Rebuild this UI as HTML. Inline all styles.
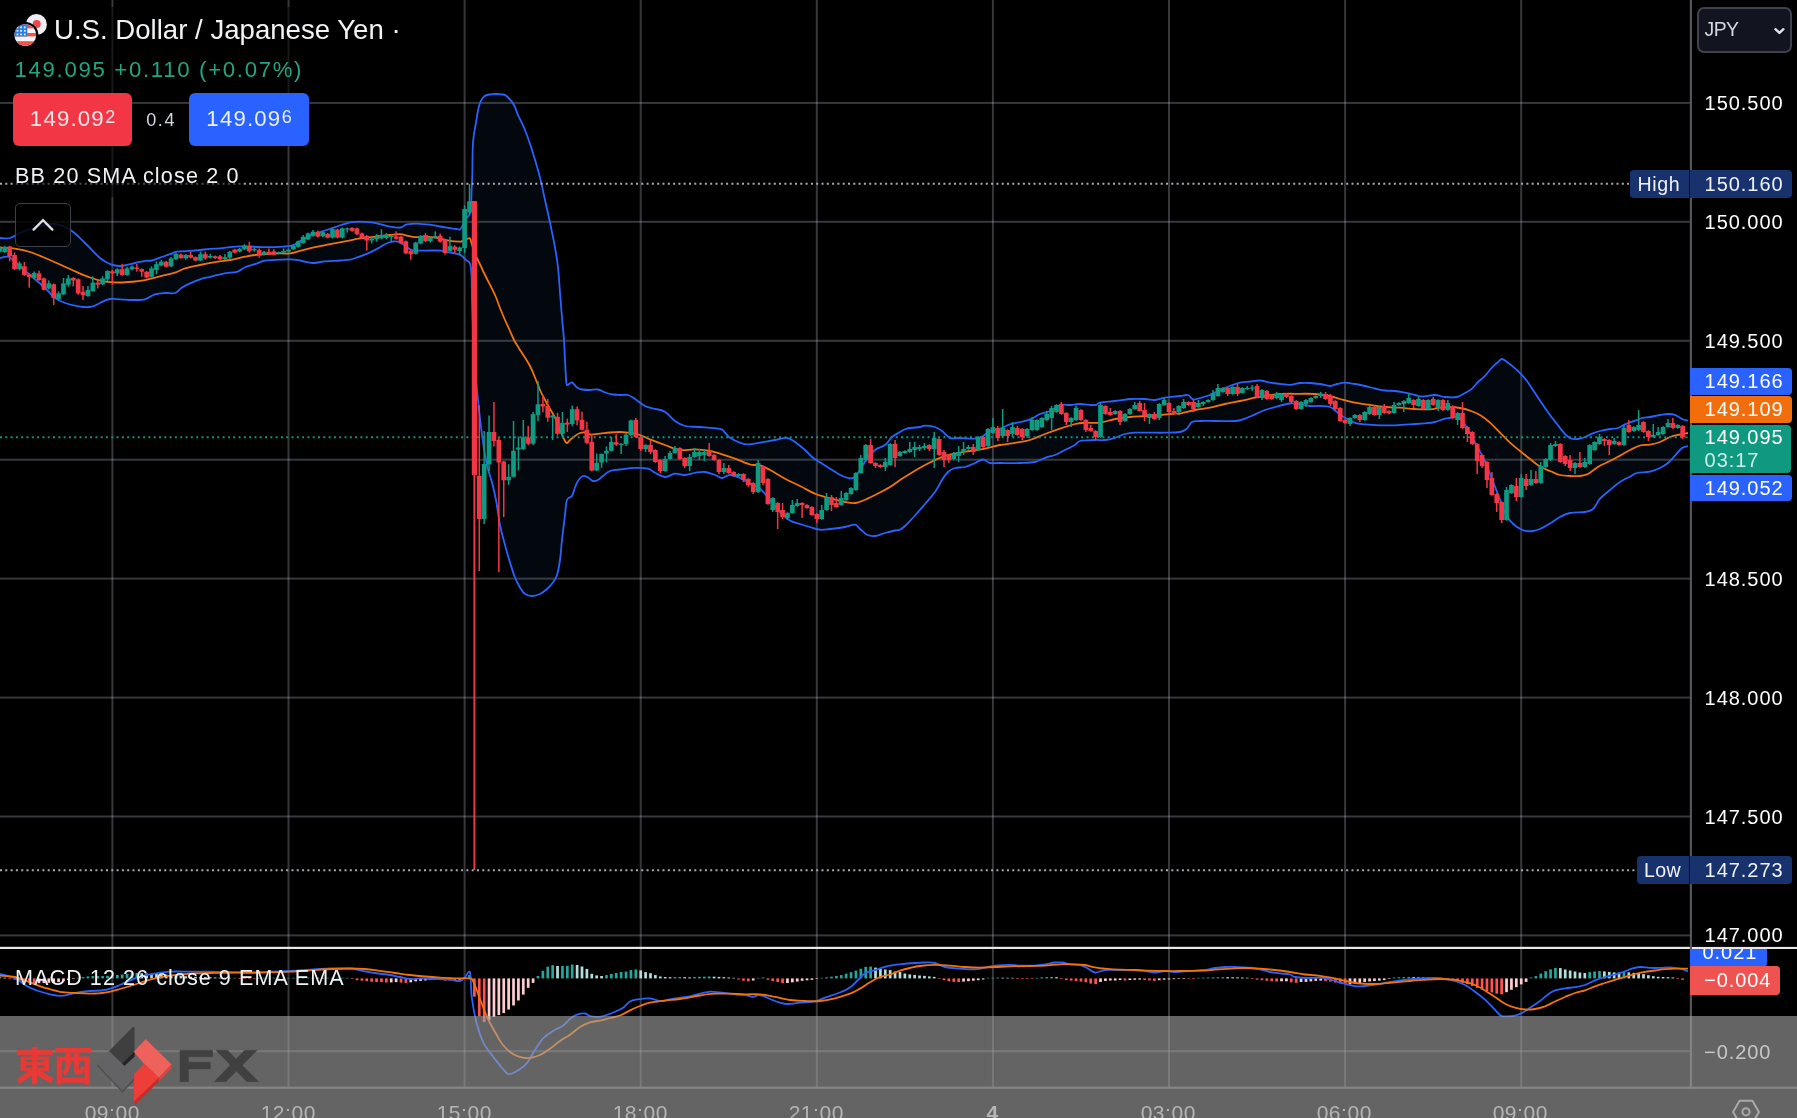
<!DOCTYPE html>
<html><head><meta charset="utf-8"><title>USDJPY chart</title>
<style>
html,body{margin:0;padding:0;background:#000;}
body{width:1797px;height:1118px;overflow:hidden;position:relative;font-family:"Liberation Sans",sans-serif;}
#stage{position:absolute;left:0;top:0;width:1797px;height:1118px;overflow:hidden;will-change:transform;}
#stage svg{position:absolute;left:0;top:0;}
.t{position:absolute;white-space:nowrap;}
.pl{position:absolute;left:1690px;font-size:20px;letter-spacing:0.95px;padding-left:14.6px;box-sizing:border-box;white-space:nowrap;color:#e4e5ea;}
.pl.box{border-radius:0 4px 4px 0;}
.tl{position:absolute;top:1101px;font-size:21px;letter-spacing:0.55px;color:#cfd1d8;transform:translateX(-50%);white-space:nowrap;line-height:24px;}
</style></head><body><div id="stage">

<svg width="1797" height="1118" viewBox="0 0 1797 1118"><g id="grid">
<rect x="111.4" y="0" width="2" height="1088" fill="rgba(205,208,220,0.27)"/>
<rect x="287.5" y="0" width="2" height="1088" fill="rgba(205,208,220,0.27)"/>
<rect x="463.6" y="0" width="2" height="1088" fill="rgba(205,208,220,0.27)"/>
<rect x="639.7" y="0" width="2" height="1088" fill="rgba(205,208,220,0.27)"/>
<rect x="815.8" y="0" width="2" height="1088" fill="rgba(205,208,220,0.27)"/>
<rect x="991.9" y="0" width="2" height="1088" fill="rgba(205,208,220,0.27)"/>
<rect x="1168.0" y="0" width="2" height="1088" fill="rgba(205,208,220,0.27)"/>
<rect x="1344.1" y="0" width="2" height="1088" fill="rgba(205,208,220,0.27)"/>
<rect x="1520.2" y="0" width="2" height="1088" fill="rgba(205,208,220,0.27)"/>
<rect x="0" y="101.9" width="1690.9" height="2" fill="rgba(205,208,220,0.27)"/>
<rect x="0" y="220.8" width="1690.9" height="2" fill="rgba(205,208,220,0.27)"/>
<rect x="0" y="339.8" width="1690.9" height="2" fill="rgba(205,208,220,0.27)"/>
<rect x="0" y="458.7" width="1690.9" height="2" fill="rgba(205,208,220,0.27)"/>
<rect x="0" y="577.6" width="1690.9" height="2" fill="rgba(205,208,220,0.27)"/>
<rect x="0" y="696.6" width="1690.9" height="2" fill="rgba(205,208,220,0.27)"/>
<rect x="0" y="815.5" width="1690.9" height="2" fill="rgba(205,208,220,0.27)"/>
<rect x="0" y="934.4" width="1690.9" height="2" fill="rgba(205,208,220,0.27)"/>
</g>
<polygon points="0.0,238.0 10.0,238.0 20.0,233.0 35.0,227.5 50.0,224.0 60.0,225.0 72.0,231.0 85.0,243.0 100.0,258.0 110.0,264.0 120.0,266.0 135.0,263.0 145.0,260.9 152.0,260.5 160.0,257.6 170.0,254.2 177.0,251.7 190.0,250.9 200.0,250.0 210.0,248.8 220.0,248.4 230.0,247.1 240.0,246.3 250.0,246.5 260.0,247.1 275.0,247.1 285.0,246.5 290.0,245.9 295.0,244.2 305.0,238.4 315.0,233.8 325.0,230.5 335.0,227.1 345.0,223.8 352.0,222.1 360.0,221.7 370.0,222.1 380.0,224.2 390.0,226.7 397.0,227.6 402.0,227.1 406.0,224.6 412.0,223.8 420.0,223.8 430.0,224.7 440.0,226.5 450.0,228.2 457.0,229.1 460.0,229.4 462.5,226.0 465.0,221.0 467.5,217.0 470.0,213.5 471.0,206.3 471.5,193.0 472.3,175.0 473.0,142.5 476.0,122.5 479.0,106.0 483.0,97.5 489.0,94.5 503.0,94.5 508.0,97.5 514.0,105.0 518.0,115.0 525.0,130.0 532.0,150.0 540.0,177.5 545.0,200.0 550.0,222.5 555.0,247.5 558.0,267.5 560.0,292.5 562.0,317.5 564.0,340.0 565.0,360.0 566.0,377.5 567.0,385.0 572.0,382.5 577.0,387.5 582.0,389.5 590.0,390.0 598.0,389.5 605.0,392.5 613.0,394.5 620.0,395.0 628.0,395.0 635.0,399.0 645.0,406.0 655.0,408.8 665.0,411.8 675.0,421.0 685.0,426.0 700.0,427.0 720.0,428.9 725.0,432.7 730.0,437.7 740.0,442.7 748.0,444.4 760.0,442.7 775.0,440.0 787.0,438.0 795.0,442.0 805.0,450.0 813.0,457.8 822.0,463.6 830.0,468.7 838.0,473.7 845.0,477.0 853.0,477.9 860.0,470.0 867.0,458.6 875.0,450.0 885.0,445.0 892.0,437.0 900.0,432.0 907.0,428.6 920.0,427.0 925.0,425.6 935.0,427.0 942.0,431.0 950.0,437.8 960.0,438.0 975.0,438.6 983.0,436.0 990.0,431.0 1000.0,428.6 1010.0,424.4 1020.0,422.0 1030.0,419.4 1040.0,414.0 1050.0,411.0 1060.0,405.0 1070.0,405.0 1080.0,404.0 1095.0,405.0 1100.0,402.6 1115.0,401.0 1130.0,399.0 1145.0,399.0 1155.0,400.0 1165.0,397.6 1180.0,396.0 1188.0,395.0 1193.0,399.4 1200.0,398.0 1210.0,395.0 1220.0,390.0 1230.0,386.0 1240.0,382.6 1250.0,381.5 1260.0,380.5 1270.0,382.6 1280.0,383.8 1290.0,384.8 1300.0,383.0 1310.0,383.0 1320.0,384.0 1330.0,386.0 1337.0,384.0 1345.0,382.6 1355.0,384.0 1365.0,386.0 1375.0,388.5 1385.0,390.5 1395.0,391.0 1405.0,392.7 1415.0,395.0 1422.0,396.5 1435.0,395.0 1445.0,397.0 1457.0,397.0 1465.0,393.0 1472.0,388.6 1478.0,382.0 1485.0,375.8 1492.0,367.5 1498.0,362.0 1502.0,359.0 1507.0,362.0 1513.0,366.6 1520.0,373.0 1527.0,381.0 1535.0,393.0 1543.0,405.0 1550.0,415.0 1557.0,424.0 1563.0,431.7 1570.0,438.0 1578.0,439.0 1585.0,437.0 1592.0,433.6 1600.0,431.0 1610.0,429.0 1618.0,428.0 1625.0,424.4 1635.0,420.7 1642.0,418.0 1650.0,417.0 1660.0,415.0 1668.0,414.0 1675.0,414.8 1682.0,419.0 1688.0,420.7 1688.0,446.0 1682.0,448.0 1675.0,455.6 1668.0,463.0 1660.0,468.0 1650.0,471.7 1637.0,473.0 1630.0,476.7 1620.0,482.0 1610.0,490.0 1600.0,498.7 1596.0,505.0 1592.0,509.7 1585.0,512.0 1570.0,513.0 1560.0,517.0 1550.0,523.5 1540.0,529.0 1533.0,531.0 1525.0,530.8 1517.0,527.0 1510.0,520.7 1505.0,512.5 1500.0,499.6 1495.0,486.7 1490.0,474.0 1485.0,461.0 1478.0,448.0 1472.0,437.0 1465.0,424.4 1458.0,417.0 1450.0,418.0 1445.0,418.6 1435.0,422.0 1425.0,423.3 1410.0,424.4 1395.0,425.3 1380.0,425.3 1365.0,424.4 1355.0,422.8 1345.0,417.8 1337.0,412.0 1330.0,407.0 1320.0,406.0 1310.0,406.0 1300.0,404.4 1290.0,403.5 1275.0,407.0 1265.0,410.0 1255.0,414.4 1245.0,418.6 1235.0,421.0 1215.0,421.0 1200.0,421.0 1192.0,422.0 1187.0,428.6 1180.0,432.0 1165.0,432.7 1150.0,432.7 1135.0,432.7 1125.0,434.0 1115.0,437.8 1105.0,440.0 1095.0,440.0 1080.0,441.0 1075.0,445.0 1065.0,450.0 1055.0,455.0 1045.0,457.8 1035.0,462.0 1020.0,463.0 1000.0,463.0 990.0,463.0 983.0,459.5 975.0,463.0 965.0,467.0 955.0,468.0 948.0,472.0 942.0,480.0 935.0,492.0 925.0,504.0 915.0,515.5 905.0,526.0 900.0,529.7 895.0,530.5 885.0,533.0 875.0,536.0 867.0,534.7 860.0,529.0 855.0,524.7 845.0,527.0 830.0,529.0 820.0,529.7 810.0,527.0 800.0,524.0 790.0,520.5 780.0,512.0 770.0,500.0 760.0,488.7 750.0,483.7 740.0,478.0 730.0,475.0 722.0,478.0 715.0,475.0 705.0,472.0 695.0,472.8 685.0,475.0 675.0,473.7 665.0,477.0 655.0,472.8 648.0,468.7 635.0,467.8 620.0,469.5 610.0,471.0 603.0,476.0 598.0,480.0 593.0,481.0 588.0,477.5 583.0,476.0 578.0,481.0 575.0,487.5 572.0,496.0 567.0,500.0 565.0,515.0 562.0,540.0 560.0,560.0 557.0,575.0 553.0,582.5 547.0,589.0 540.0,594.0 532.0,596.0 525.0,594.0 520.0,587.5 515.0,577.5 510.0,562.5 505.0,545.0 500.0,525.0 496.0,500.0 492.0,482.5 487.0,465.0 482.0,435.0 477.0,390.0 475.0,360.0 473.0,330.0 472.0,300.0 471.5,275.0 470.0,263.6 466.0,260.0 462.0,256.0 458.0,254.2 452.0,252.9 445.0,252.0 440.0,250.6 420.0,250.6 415.0,250.5 410.0,249.3 403.0,244.2 398.0,241.7 392.0,241.7 385.0,244.2 378.0,248.4 368.0,253.4 358.0,257.2 350.0,259.7 340.0,260.5 325.0,261.4 313.0,263.0 300.0,260.5 290.0,259.3 280.0,259.7 265.0,260.7 255.0,264.2 245.0,267.2 237.0,271.8 225.0,273.4 210.0,276.8 200.0,279.3 190.0,283.4 182.0,287.6 175.0,293.0 165.0,293.0 155.0,294.3 145.0,299.3 135.0,300.0 125.0,299.7 110.0,299.0 100.0,303.0 92.0,306.7 80.0,306.7 65.0,303.0 55.0,298.0 45.0,288.0 30.0,275.0 15.0,261.7 8.0,256.7 0.0,258.0" fill="rgba(33,150,243,0.055)"/>
<path d="M0.0,238.0 C1.8,238.0 6.4,238.9 10.0,238.0 C13.6,237.1 15.5,234.9 20.0,233.0 C24.5,231.1 29.6,229.1 35.0,227.5 C40.4,225.9 45.5,224.4 50.0,224.0 C54.5,223.6 56.0,223.7 60.0,225.0 C64.0,226.3 67.5,227.8 72.0,231.0 C76.5,234.2 80.0,238.1 85.0,243.0 C90.0,247.9 95.5,254.2 100.0,258.0 C104.5,261.8 106.4,262.6 110.0,264.0 C113.6,265.4 115.5,266.2 120.0,266.0 C124.5,265.8 130.5,263.9 135.0,263.0 C139.5,262.1 141.9,261.3 145.0,260.9 C148.1,260.4 149.3,261.1 152.0,260.5 C154.7,259.9 156.8,258.7 160.0,257.6 C163.2,256.5 166.9,255.3 170.0,254.2 C173.1,253.1 173.4,252.3 177.0,251.7 C180.6,251.1 185.9,251.2 190.0,250.9 C194.1,250.6 196.4,250.4 200.0,250.0 C203.6,249.6 206.4,249.1 210.0,248.8 C213.6,248.5 216.4,248.7 220.0,248.4 C223.6,248.1 226.4,247.5 230.0,247.1 C233.6,246.7 236.4,246.4 240.0,246.3 C243.6,246.2 246.4,246.4 250.0,246.5 C253.6,246.6 255.5,247.0 260.0,247.1 C264.5,247.2 270.5,247.2 275.0,247.1 C279.5,247.0 282.3,246.7 285.0,246.5 C287.7,246.3 288.2,246.3 290.0,245.9 C291.8,245.5 292.3,245.5 295.0,244.2 C297.7,242.8 301.4,240.3 305.0,238.4 C308.6,236.5 311.4,235.2 315.0,233.8 C318.6,232.4 321.4,231.7 325.0,230.5 C328.6,229.3 331.4,228.3 335.0,227.1 C338.6,225.9 341.9,224.7 345.0,223.8 C348.1,222.9 349.3,222.5 352.0,222.1 C354.7,221.7 356.8,221.7 360.0,221.7 C363.2,221.7 366.4,221.7 370.0,222.1 C373.6,222.5 376.4,223.4 380.0,224.2 C383.6,225.0 386.9,226.1 390.0,226.7 C393.1,227.3 394.8,227.5 397.0,227.6 C399.2,227.7 400.4,227.6 402.0,227.1 C403.6,226.6 404.2,225.2 406.0,224.6 C407.8,224.0 409.5,223.9 412.0,223.8 C414.5,223.7 416.8,223.6 420.0,223.8 C423.2,224.0 426.4,224.2 430.0,224.7 C433.6,225.2 436.4,225.9 440.0,226.5 C443.6,227.1 446.9,227.7 450.0,228.2 C453.1,228.7 455.2,228.9 457.0,229.1 C458.8,229.3 459.0,230.0 460.0,229.4 C461.0,228.8 461.6,227.5 462.5,226.0 C463.4,224.5 464.1,222.6 465.0,221.0 C465.9,219.4 466.6,218.3 467.5,217.0 C468.4,215.7 469.4,215.4 470.0,213.5 C470.6,211.6 470.7,210.0 471.0,206.3 C471.3,202.6 471.3,198.6 471.5,193.0 C471.7,187.4 472.0,184.1 472.3,175.0 C472.6,165.9 472.3,151.9 473.0,142.5 C473.7,133.1 474.9,129.1 476.0,122.5 C477.1,115.9 477.7,110.5 479.0,106.0 C480.3,101.5 481.2,99.6 483.0,97.5 C484.8,95.4 485.4,95.0 489.0,94.5 C492.6,94.0 499.6,94.0 503.0,94.5 C506.4,95.0 506.0,95.6 508.0,97.5 C510.0,99.4 512.2,101.8 514.0,105.0 C515.8,108.2 516.0,110.5 518.0,115.0 C520.0,119.5 522.5,123.7 525.0,130.0 C527.5,136.3 529.3,141.4 532.0,150.0 C534.7,158.6 537.7,168.5 540.0,177.5 C542.3,186.5 543.2,191.9 545.0,200.0 C546.8,208.1 548.2,213.9 550.0,222.5 C551.8,231.1 553.6,239.4 555.0,247.5 C556.4,255.6 557.1,259.4 558.0,267.5 C558.9,275.6 559.3,283.5 560.0,292.5 C560.7,301.5 561.3,308.9 562.0,317.5 C562.7,326.1 563.5,332.4 564.0,340.0 C564.5,347.6 564.6,353.2 565.0,360.0 C565.4,366.8 565.6,373.0 566.0,377.5 C566.4,382.0 566.0,384.1 567.0,385.0 C568.1,385.9 570.2,382.1 572.0,382.5 C573.8,382.9 575.2,386.2 577.0,387.5 C578.8,388.8 579.7,389.1 582.0,389.5 C584.3,389.9 587.1,390.0 590.0,390.0 C592.9,390.0 595.3,389.1 598.0,389.5 C600.7,389.9 602.3,391.6 605.0,392.5 C607.7,393.4 610.3,394.1 613.0,394.5 C615.7,394.9 617.3,394.9 620.0,395.0 C622.7,395.1 625.3,394.3 628.0,395.0 C630.7,395.7 631.9,397.0 635.0,399.0 C638.1,401.0 641.4,404.2 645.0,406.0 C648.6,407.8 651.4,407.8 655.0,408.8 C658.6,409.8 661.4,409.6 665.0,411.8 C668.6,414.0 671.4,418.4 675.0,421.0 C678.6,423.6 680.5,424.9 685.0,426.0 C689.5,427.1 693.7,426.5 700.0,427.0 C706.3,427.5 715.5,427.9 720.0,428.9 C724.5,429.9 723.2,431.1 725.0,432.7 C726.8,434.3 727.3,435.9 730.0,437.7 C732.7,439.5 736.8,441.5 740.0,442.7 C743.2,443.9 744.4,444.4 748.0,444.4 C751.6,444.4 755.1,443.5 760.0,442.7 C764.9,441.9 770.1,440.8 775.0,440.0 C779.9,439.2 783.4,437.6 787.0,438.0 C790.6,438.4 791.8,439.8 795.0,442.0 C798.2,444.2 801.8,447.2 805.0,450.0 C808.2,452.8 809.9,455.4 813.0,457.8 C816.1,460.2 818.9,461.6 822.0,463.6 C825.1,465.6 827.1,466.9 830.0,468.7 C832.9,470.5 835.3,472.2 838.0,473.7 C840.7,475.2 842.3,476.2 845.0,477.0 C847.7,477.8 850.3,479.2 853.0,477.9 C855.7,476.6 857.5,473.5 860.0,470.0 C862.5,466.5 864.3,462.2 867.0,458.6 C869.7,455.0 871.8,452.4 875.0,450.0 C878.2,447.6 881.9,447.3 885.0,445.0 C888.1,442.7 889.3,439.3 892.0,437.0 C894.7,434.7 897.3,433.5 900.0,432.0 C902.7,430.5 903.4,429.5 907.0,428.6 C910.6,427.7 916.8,427.5 920.0,427.0 C923.2,426.5 922.3,425.6 925.0,425.6 C927.7,425.6 931.9,426.0 935.0,427.0 C938.1,428.0 939.3,429.1 942.0,431.0 C944.7,432.9 946.8,436.5 950.0,437.8 C953.2,439.1 955.5,437.9 960.0,438.0 C964.5,438.1 970.9,439.0 975.0,438.6 C979.1,438.2 980.3,437.4 983.0,436.0 C985.7,434.6 986.9,432.3 990.0,431.0 C993.1,429.7 996.4,429.8 1000.0,428.6 C1003.6,427.4 1006.4,425.6 1010.0,424.4 C1013.6,423.2 1016.4,422.9 1020.0,422.0 C1023.6,421.1 1026.4,420.8 1030.0,419.4 C1033.6,418.0 1036.4,415.5 1040.0,414.0 C1043.6,412.5 1046.4,412.6 1050.0,411.0 C1053.6,409.4 1056.4,406.1 1060.0,405.0 C1063.6,403.9 1066.4,405.2 1070.0,405.0 C1073.6,404.8 1075.5,404.0 1080.0,404.0 C1084.5,404.0 1091.4,405.3 1095.0,405.0 C1098.6,404.7 1096.4,403.3 1100.0,402.6 C1103.6,401.9 1109.6,401.6 1115.0,401.0 C1120.4,400.4 1124.6,399.4 1130.0,399.0 C1135.4,398.6 1140.5,398.8 1145.0,399.0 C1149.5,399.2 1151.4,400.3 1155.0,400.0 C1158.6,399.7 1160.5,398.3 1165.0,397.6 C1169.5,396.9 1175.9,396.5 1180.0,396.0 C1184.1,395.5 1185.7,394.4 1188.0,395.0 C1190.3,395.6 1190.8,398.9 1193.0,399.4 C1195.2,399.9 1196.9,398.8 1200.0,398.0 C1203.1,397.2 1206.4,396.4 1210.0,395.0 C1213.6,393.6 1216.4,391.6 1220.0,390.0 C1223.6,388.4 1226.4,387.3 1230.0,386.0 C1233.6,384.7 1236.4,383.4 1240.0,382.6 C1243.6,381.8 1246.4,381.9 1250.0,381.5 C1253.6,381.1 1256.4,380.3 1260.0,380.5 C1263.6,380.7 1266.4,382.0 1270.0,382.6 C1273.6,383.2 1276.4,383.4 1280.0,383.8 C1283.6,384.2 1286.4,384.9 1290.0,384.8 C1293.6,384.7 1296.4,383.3 1300.0,383.0 C1303.6,382.7 1306.4,382.8 1310.0,383.0 C1313.6,383.2 1316.4,383.5 1320.0,384.0 C1323.6,384.5 1326.9,386.0 1330.0,386.0 C1333.1,386.0 1334.3,384.6 1337.0,384.0 C1339.7,383.4 1341.8,382.6 1345.0,382.6 C1348.2,382.6 1351.4,383.4 1355.0,384.0 C1358.6,384.6 1361.4,385.2 1365.0,386.0 C1368.6,386.8 1371.4,387.7 1375.0,388.5 C1378.6,389.3 1381.4,390.1 1385.0,390.5 C1388.6,390.9 1391.4,390.6 1395.0,391.0 C1398.6,391.4 1401.4,392.0 1405.0,392.7 C1408.6,393.4 1411.9,394.3 1415.0,395.0 C1418.1,395.7 1418.4,396.5 1422.0,396.5 C1425.6,396.5 1430.9,394.9 1435.0,395.0 C1439.1,395.1 1441.0,396.6 1445.0,397.0 C1449.0,397.4 1453.4,397.7 1457.0,397.0 C1460.6,396.3 1462.3,394.5 1465.0,393.0 C1467.7,391.5 1469.7,390.6 1472.0,388.6 C1474.3,386.6 1475.7,384.3 1478.0,382.0 C1480.3,379.7 1482.5,378.4 1485.0,375.8 C1487.5,373.2 1489.7,370.0 1492.0,367.5 C1494.3,365.0 1496.2,363.5 1498.0,362.0 C1499.8,360.5 1500.4,359.0 1502.0,359.0 C1503.6,359.0 1505.0,360.6 1507.0,362.0 C1509.0,363.4 1510.7,364.6 1513.0,366.6 C1515.3,368.6 1517.5,370.4 1520.0,373.0 C1522.5,375.6 1524.3,377.4 1527.0,381.0 C1529.7,384.6 1532.1,388.7 1535.0,393.0 C1537.9,397.3 1540.3,401.0 1543.0,405.0 C1545.7,409.0 1547.5,411.6 1550.0,415.0 C1552.5,418.4 1554.7,421.0 1557.0,424.0 C1559.3,427.0 1560.7,429.2 1563.0,431.7 C1565.3,434.2 1567.3,436.7 1570.0,438.0 C1572.7,439.3 1575.3,439.2 1578.0,439.0 C1580.7,438.8 1582.5,438.0 1585.0,437.0 C1587.5,436.0 1589.3,434.7 1592.0,433.6 C1594.7,432.5 1596.8,431.8 1600.0,431.0 C1603.2,430.2 1606.8,429.5 1610.0,429.0 C1613.2,428.5 1615.3,428.8 1618.0,428.0 C1620.7,427.2 1621.9,425.7 1625.0,424.4 C1628.1,423.1 1631.9,421.9 1635.0,420.7 C1638.1,419.5 1639.3,418.7 1642.0,418.0 C1644.7,417.3 1646.8,417.5 1650.0,417.0 C1653.2,416.5 1656.8,415.5 1660.0,415.0 C1663.2,414.5 1665.3,414.0 1668.0,414.0 C1670.7,414.0 1672.5,413.9 1675.0,414.8 C1677.5,415.7 1679.7,417.9 1682.0,419.0 C1684.3,420.1 1686.9,420.4 1688.0,420.7" fill="none" stroke="#2962ff" stroke-width="1.8" stroke-linejoin="round"/>
<path d="M0.0,258.0 C1.4,257.8 5.3,256.0 8.0,256.7 C10.7,257.4 11.0,258.4 15.0,261.7 C19.0,265.0 24.6,270.3 30.0,275.0 C35.4,279.7 40.5,283.9 45.0,288.0 C49.5,292.1 51.4,295.3 55.0,298.0 C58.6,300.7 60.5,301.4 65.0,303.0 C69.5,304.6 75.1,306.0 80.0,306.7 C84.9,307.4 88.4,307.4 92.0,306.7 C95.6,306.0 96.8,304.4 100.0,303.0 C103.2,301.6 105.5,299.6 110.0,299.0 C114.5,298.4 120.5,299.5 125.0,299.7 C129.5,299.9 131.4,300.1 135.0,300.0 C138.6,299.9 141.4,300.3 145.0,299.3 C148.6,298.3 151.4,295.4 155.0,294.3 C158.6,293.2 161.4,293.2 165.0,293.0 C168.6,292.8 171.9,294.0 175.0,293.0 C178.1,292.0 179.3,289.3 182.0,287.6 C184.7,285.9 186.8,284.9 190.0,283.4 C193.2,281.9 196.4,280.5 200.0,279.3 C203.6,278.1 205.5,277.9 210.0,276.8 C214.5,275.7 220.1,274.3 225.0,273.4 C229.9,272.5 233.4,272.9 237.0,271.8 C240.6,270.7 241.8,268.6 245.0,267.2 C248.2,265.8 251.4,265.4 255.0,264.2 C258.6,263.0 260.5,261.5 265.0,260.7 C269.5,259.9 275.5,260.0 280.0,259.7 C284.5,259.4 286.4,259.2 290.0,259.3 C293.6,259.4 295.9,259.8 300.0,260.5 C304.1,261.2 308.5,262.8 313.0,263.0 C317.5,263.2 320.1,261.8 325.0,261.4 C329.9,260.9 335.5,260.8 340.0,260.5 C344.5,260.2 346.8,260.3 350.0,259.7 C353.2,259.1 354.8,258.3 358.0,257.2 C361.2,256.1 364.4,255.0 368.0,253.4 C371.6,251.8 374.9,250.1 378.0,248.4 C381.1,246.7 382.5,245.4 385.0,244.2 C387.5,243.0 389.7,242.1 392.0,241.7 C394.3,241.2 396.0,241.2 398.0,241.7 C400.0,242.1 400.8,242.8 403.0,244.2 C405.2,245.6 407.8,248.2 410.0,249.3 C412.2,250.4 413.2,250.3 415.0,250.5 C416.8,250.7 415.5,250.6 420.0,250.6 C424.5,250.6 435.5,250.3 440.0,250.6 C444.5,250.9 442.8,251.6 445.0,252.0 C447.2,252.4 449.7,252.5 452.0,252.9 C454.3,253.3 456.2,253.6 458.0,254.2 C459.8,254.8 460.6,255.0 462.0,256.0 C463.4,257.0 464.6,258.6 466.0,260.0 C467.4,261.4 469.0,260.9 470.0,263.6 C471.0,266.3 471.1,268.4 471.5,275.0 C471.9,281.6 471.7,290.1 472.0,300.0 C472.3,309.9 472.5,319.2 473.0,330.0 C473.5,340.8 474.3,349.2 475.0,360.0 C475.7,370.8 475.7,376.5 477.0,390.0 C478.3,403.5 480.2,421.5 482.0,435.0 C483.8,448.5 485.2,456.4 487.0,465.0 C488.8,473.6 490.4,476.2 492.0,482.5 C493.6,488.8 494.6,492.4 496.0,500.0 C497.4,507.6 498.4,516.9 500.0,525.0 C501.6,533.1 503.2,538.2 505.0,545.0 C506.8,551.8 508.2,556.6 510.0,562.5 C511.8,568.4 513.2,573.0 515.0,577.5 C516.8,582.0 518.2,584.5 520.0,587.5 C521.8,590.5 522.8,592.5 525.0,594.0 C527.2,595.5 529.3,596.0 532.0,596.0 C534.7,596.0 537.3,595.3 540.0,594.0 C542.7,592.7 544.7,591.1 547.0,589.0 C549.3,586.9 551.2,585.0 553.0,582.5 C554.8,580.0 555.7,579.0 557.0,575.0 C558.3,571.0 559.1,566.3 560.0,560.0 C560.9,553.7 561.1,548.1 562.0,540.0 C562.9,531.9 564.1,522.2 565.0,515.0 C565.9,507.8 565.7,503.4 567.0,500.0 C568.3,496.6 570.6,498.2 572.0,496.0 C573.4,493.8 573.9,490.2 575.0,487.5 C576.1,484.8 576.6,483.1 578.0,481.0 C579.4,478.9 581.2,476.6 583.0,476.0 C584.8,475.4 586.2,476.6 588.0,477.5 C589.8,478.4 591.2,480.6 593.0,481.0 C594.8,481.4 596.2,480.9 598.0,480.0 C599.8,479.1 600.8,477.6 603.0,476.0 C605.2,474.4 606.9,472.2 610.0,471.0 C613.1,469.8 615.5,470.1 620.0,469.5 C624.5,468.9 630.0,467.9 635.0,467.8 C640.0,467.7 644.4,467.8 648.0,468.7 C651.6,469.6 651.9,471.3 655.0,472.8 C658.1,474.3 661.4,476.8 665.0,477.0 C668.6,477.2 671.4,474.1 675.0,473.7 C678.6,473.3 681.4,475.2 685.0,475.0 C688.6,474.8 691.4,473.3 695.0,472.8 C698.6,472.3 701.4,471.6 705.0,472.0 C708.6,472.4 711.9,473.9 715.0,475.0 C718.1,476.1 719.3,478.0 722.0,478.0 C724.7,478.0 726.8,475.0 730.0,475.0 C733.2,475.0 736.4,476.4 740.0,478.0 C743.6,479.6 746.4,481.8 750.0,483.7 C753.6,485.6 756.4,485.8 760.0,488.7 C763.6,491.6 766.4,495.8 770.0,500.0 C773.6,504.2 776.4,508.3 780.0,512.0 C783.6,515.7 786.4,518.3 790.0,520.5 C793.6,522.7 796.4,522.8 800.0,524.0 C803.6,525.2 806.4,526.0 810.0,527.0 C813.6,528.0 816.4,529.3 820.0,529.7 C823.6,530.1 825.5,529.5 830.0,529.0 C834.5,528.5 840.5,527.8 845.0,527.0 C849.5,526.2 852.3,524.3 855.0,524.7 C857.7,525.1 857.8,527.2 860.0,529.0 C862.2,530.8 864.3,533.4 867.0,534.7 C869.7,536.0 871.8,536.3 875.0,536.0 C878.2,535.7 881.4,534.0 885.0,533.0 C888.6,532.0 892.3,531.1 895.0,530.5 C897.7,529.9 898.2,530.5 900.0,529.7 C901.8,528.9 902.3,528.6 905.0,526.0 C907.7,523.4 911.4,519.5 915.0,515.5 C918.6,511.5 921.4,508.2 925.0,504.0 C928.6,499.8 931.9,496.3 935.0,492.0 C938.1,487.7 939.7,483.6 942.0,480.0 C944.3,476.4 945.7,474.2 948.0,472.0 C950.3,469.8 951.9,468.9 955.0,468.0 C958.1,467.1 961.4,467.9 965.0,467.0 C968.6,466.1 971.8,464.4 975.0,463.0 C978.2,461.6 980.3,459.5 983.0,459.5 C985.7,459.5 986.9,462.4 990.0,463.0 C993.1,463.6 994.6,463.0 1000.0,463.0 C1005.4,463.0 1013.7,463.2 1020.0,463.0 C1026.3,462.8 1030.5,462.9 1035.0,462.0 C1039.5,461.1 1041.4,459.1 1045.0,457.8 C1048.6,456.5 1051.4,456.4 1055.0,455.0 C1058.6,453.6 1061.4,451.8 1065.0,450.0 C1068.6,448.2 1072.3,446.6 1075.0,445.0 C1077.7,443.4 1076.4,441.9 1080.0,441.0 C1083.6,440.1 1090.5,440.2 1095.0,440.0 C1099.5,439.8 1101.4,440.4 1105.0,440.0 C1108.6,439.6 1111.4,438.9 1115.0,437.8 C1118.6,436.7 1121.4,434.9 1125.0,434.0 C1128.6,433.1 1130.5,432.9 1135.0,432.7 C1139.5,432.5 1144.6,432.7 1150.0,432.7 C1155.4,432.7 1159.6,432.8 1165.0,432.7 C1170.4,432.6 1176.0,432.7 1180.0,432.0 C1184.0,431.3 1184.8,430.4 1187.0,428.6 C1189.2,426.8 1189.7,423.4 1192.0,422.0 C1194.3,420.6 1195.9,421.2 1200.0,421.0 C1204.1,420.8 1208.7,421.0 1215.0,421.0 C1221.3,421.0 1229.6,421.4 1235.0,421.0 C1240.4,420.6 1241.4,419.8 1245.0,418.6 C1248.6,417.4 1251.4,415.9 1255.0,414.4 C1258.6,412.9 1261.4,411.3 1265.0,410.0 C1268.6,408.7 1270.5,408.2 1275.0,407.0 C1279.5,405.8 1285.5,404.0 1290.0,403.5 C1294.5,403.0 1296.4,403.9 1300.0,404.4 C1303.6,404.8 1306.4,405.7 1310.0,406.0 C1313.6,406.3 1316.4,405.8 1320.0,406.0 C1323.6,406.2 1326.9,405.9 1330.0,407.0 C1333.1,408.1 1334.3,410.1 1337.0,412.0 C1339.7,413.9 1341.8,415.9 1345.0,417.8 C1348.2,419.7 1351.4,421.6 1355.0,422.8 C1358.6,424.0 1360.5,423.9 1365.0,424.4 C1369.5,424.8 1374.6,425.1 1380.0,425.3 C1385.4,425.5 1389.6,425.5 1395.0,425.3 C1400.4,425.1 1404.6,424.8 1410.0,424.4 C1415.4,424.0 1420.5,423.7 1425.0,423.3 C1429.5,422.9 1431.4,422.8 1435.0,422.0 C1438.6,421.2 1442.3,419.3 1445.0,418.6 C1447.7,417.9 1447.7,418.3 1450.0,418.0 C1452.3,417.7 1455.3,415.8 1458.0,417.0 C1460.7,418.2 1462.5,420.8 1465.0,424.4 C1467.5,428.0 1469.7,432.8 1472.0,437.0 C1474.3,441.2 1475.7,443.7 1478.0,448.0 C1480.3,452.3 1482.8,456.3 1485.0,461.0 C1487.2,465.7 1488.2,469.4 1490.0,474.0 C1491.8,478.6 1493.2,482.1 1495.0,486.7 C1496.8,491.3 1498.2,495.0 1500.0,499.6 C1501.8,504.2 1503.2,508.7 1505.0,512.5 C1506.8,516.3 1507.8,518.1 1510.0,520.7 C1512.2,523.3 1514.3,525.2 1517.0,527.0 C1519.7,528.8 1522.1,530.1 1525.0,530.8 C1527.9,531.5 1530.3,531.3 1533.0,531.0 C1535.7,530.7 1536.9,530.4 1540.0,529.0 C1543.1,527.6 1546.4,525.7 1550.0,523.5 C1553.6,521.3 1556.4,518.9 1560.0,517.0 C1563.6,515.1 1565.5,513.9 1570.0,513.0 C1574.5,512.1 1581.0,512.6 1585.0,512.0 C1589.0,511.4 1590.0,511.0 1592.0,509.7 C1594.0,508.4 1594.6,507.0 1596.0,505.0 C1597.4,503.0 1597.5,501.4 1600.0,498.7 C1602.5,496.0 1606.4,493.0 1610.0,490.0 C1613.6,487.0 1616.4,484.4 1620.0,482.0 C1623.6,479.6 1626.9,478.3 1630.0,476.7 C1633.1,475.1 1633.4,473.9 1637.0,473.0 C1640.6,472.1 1645.9,472.6 1650.0,471.7 C1654.1,470.8 1656.8,469.6 1660.0,468.0 C1663.2,466.4 1665.3,465.2 1668.0,463.0 C1670.7,460.8 1672.5,458.3 1675.0,455.6 C1677.5,452.9 1679.7,449.7 1682.0,448.0 C1684.3,446.3 1686.9,446.4 1688.0,446.0" fill="none" stroke="#2962ff" stroke-width="1.8" stroke-linejoin="round"/>
<path d="M0.0,247.5 C2.7,247.7 9.6,247.9 15.0,248.7 C20.4,249.5 23.7,250.0 30.0,252.0 C36.3,254.0 42.8,256.9 50.0,260.0 C57.2,263.1 62.8,265.9 70.0,269.0 C77.2,272.1 83.7,275.2 90.0,277.5 C96.3,279.8 99.6,280.8 105.0,281.7 C110.4,282.6 114.6,282.5 120.0,282.5 C125.4,282.5 130.5,281.9 135.0,281.5 C139.5,281.1 140.5,281.0 145.0,280.1 C149.5,279.2 154.6,277.8 160.0,276.4 C165.4,275.0 170.5,274.0 175.0,272.6 C179.5,271.2 180.5,269.8 185.0,268.4 C189.5,267.0 194.6,266.1 200.0,265.0 C205.4,263.9 209.6,263.1 215.0,262.2 C220.4,261.3 224.6,261.0 230.0,260.0 C235.4,259.0 240.5,257.6 245.0,256.7 C249.5,255.8 251.4,255.4 255.0,255.0 C258.6,254.6 260.5,254.5 265.0,254.2 C269.5,253.9 275.5,253.5 280.0,253.4 C284.5,253.3 286.4,253.8 290.0,253.4 C293.6,253.0 295.5,252.0 300.0,250.9 C304.5,249.8 309.6,248.4 315.0,247.2 C320.4,246.0 324.6,245.3 330.0,244.2 C335.4,243.1 339.6,242.3 345.0,241.3 C350.4,240.3 355.5,239.1 360.0,238.4 C364.5,237.7 366.4,237.6 370.0,237.2 C373.6,236.8 376.4,236.3 380.0,235.9 C383.6,235.5 386.4,235.3 390.0,235.0 C393.6,234.7 396.8,234.0 400.0,234.2 C403.2,234.4 405.3,235.4 408.0,235.9 C410.7,236.4 411.9,237.1 415.0,237.2 C418.1,237.3 421.4,236.6 425.0,236.7 C428.6,236.8 432.3,237.3 435.0,237.6 C437.7,237.9 437.3,237.9 440.0,238.5 C442.7,239.1 446.4,240.2 450.0,240.8 C453.6,241.4 457.8,241.6 460.0,241.7 C462.0,241.8 460.7,241.7 462.0,241.2 C463.3,240.7 465.6,239.5 467.0,239.0 C468.4,238.5 469.1,237.5 470.0,238.5 C470.9,239.5 470.7,241.3 472.0,244.8 C473.3,248.3 475.4,254.3 477.0,258.2 C478.6,262.1 479.6,263.3 481.0,266.3 C482.4,269.3 482.5,269.8 485.0,275.0 C487.5,280.2 492.3,289.1 495.0,295.0 C497.7,300.9 498.2,303.5 500.0,308.0 C501.8,312.5 503.2,315.9 505.0,320.0 C506.8,324.1 508.4,327.4 510.0,331.0 C511.6,334.6 512.5,337.0 514.0,340.0 C515.5,343.0 516.9,344.9 518.5,347.5 C520.1,350.1 520.9,351.2 523.0,354.5 C525.1,357.8 527.8,361.9 530.0,366.0 C532.2,370.1 533.2,373.2 535.0,377.5 C536.8,381.8 538.2,385.9 540.0,390.0 C541.8,394.1 543.2,396.6 545.0,400.0 C546.8,403.4 548.2,405.9 550.0,409.0 C551.8,412.1 553.2,413.7 555.0,417.5 C556.8,421.3 558.2,425.8 560.0,430.0 C561.8,434.2 563.7,438.7 565.0,441.0 C566.3,443.3 566.1,443.2 567.0,443.0 C567.9,442.8 568.6,441.3 570.0,440.0 C571.4,438.7 573.2,437.3 575.0,436.0 C576.8,434.7 578.2,433.6 580.0,433.0 C581.8,432.4 583.2,432.2 585.0,432.5 C586.8,432.8 587.3,434.3 590.0,434.5 C592.7,434.7 596.4,434.1 600.0,433.7 C603.6,433.3 606.4,432.8 610.0,432.5 C613.6,432.2 616.8,432.0 620.0,432.0 C623.2,432.0 624.4,432.2 628.0,432.7 C631.6,433.2 636.0,433.8 640.0,435.0 C644.0,436.2 645.5,437.6 650.0,439.4 C654.5,441.2 659.6,443.1 665.0,445.0 C670.4,446.9 674.6,449.2 680.0,450.0 C685.4,450.8 689.6,449.2 695.0,449.4 C700.4,449.6 705.5,450.2 710.0,451.0 C714.5,451.8 715.5,452.2 720.0,453.6 C724.5,455.0 729.6,456.6 735.0,458.6 C740.4,460.6 745.5,463.3 750.0,464.5 C754.5,465.7 756.4,464.3 760.0,465.3 C763.6,466.3 765.5,467.6 770.0,470.0 C774.5,472.4 779.6,475.8 785.0,478.7 C790.4,481.6 794.6,483.3 800.0,486.0 C805.4,488.7 810.5,491.7 815.0,493.7 C819.5,495.7 821.4,495.9 825.0,497.0 C828.6,498.1 831.4,498.7 835.0,499.6 C838.6,500.5 841.4,501.4 845.0,502.0 C848.6,502.6 851.9,503.2 855.0,503.0 C858.1,502.8 858.4,502.4 862.0,501.0 C865.6,499.6 870.0,497.5 875.0,495.0 C880.0,492.5 885.5,489.7 890.0,487.0 C894.5,484.3 896.4,482.4 900.0,480.0 C903.6,477.6 905.5,476.4 910.0,473.7 C914.5,471.0 919.6,467.9 925.0,465.0 C930.4,462.1 934.6,459.9 940.0,457.8 C945.4,455.7 949.6,454.8 955.0,453.6 C960.4,452.4 964.6,451.9 970.0,451.0 C975.4,450.1 979.6,449.7 985.0,448.6 C990.4,447.5 994.6,446.0 1000.0,445.0 C1005.4,444.0 1009.6,443.7 1015.0,442.8 C1020.4,441.9 1024.6,441.6 1030.0,440.0 C1035.4,438.4 1039.6,436.1 1045.0,434.0 C1050.4,431.9 1054.6,430.4 1060.0,428.6 C1065.4,426.8 1070.5,425.1 1075.0,424.0 C1079.5,422.9 1080.5,422.9 1085.0,422.7 C1089.5,422.5 1094.6,423.4 1100.0,422.7 C1105.4,422.0 1109.6,420.0 1115.0,419.0 C1120.4,418.0 1124.6,417.5 1130.0,417.0 C1135.4,416.5 1139.6,416.4 1145.0,416.0 C1150.4,415.6 1154.6,415.4 1160.0,415.0 C1165.4,414.6 1171.4,413.8 1175.0,413.5 C1178.6,413.2 1176.4,414.2 1180.0,413.6 C1183.6,413.0 1189.6,411.1 1195.0,410.0 C1200.4,408.9 1204.6,408.8 1210.0,407.7 C1215.4,406.6 1219.6,405.2 1225.0,404.0 C1230.4,402.8 1234.6,402.1 1240.0,401.0 C1245.4,399.9 1250.5,398.6 1255.0,397.7 C1259.5,396.8 1260.5,396.7 1265.0,396.0 C1269.5,395.3 1273.7,394.4 1280.0,394.0 C1286.3,393.6 1293.7,393.8 1300.0,393.8 C1306.3,393.8 1309.6,393.6 1315.0,394.0 C1320.4,394.4 1325.5,395.1 1330.0,396.0 C1334.5,396.9 1335.5,397.8 1340.0,399.0 C1344.5,400.2 1349.6,401.6 1355.0,402.7 C1360.4,403.8 1364.6,404.2 1370.0,405.0 C1375.4,405.8 1379.6,406.5 1385.0,407.0 C1390.4,407.5 1394.6,407.3 1400.0,407.7 C1405.4,408.1 1409.6,408.7 1415.0,409.0 C1420.4,409.3 1425.5,409.6 1430.0,409.4 C1434.5,409.2 1436.4,408.1 1440.0,407.7 C1443.6,407.3 1446.4,406.9 1450.0,407.0 C1453.6,407.1 1456.4,407.4 1460.0,408.0 C1463.6,408.6 1466.4,409.3 1470.0,410.6 C1473.6,411.9 1476.4,412.8 1480.0,415.0 C1483.6,417.2 1486.4,419.4 1490.0,422.6 C1493.6,425.8 1496.4,429.1 1500.0,432.7 C1503.6,436.3 1506.4,439.4 1510.0,442.7 C1513.6,446.0 1516.4,448.1 1520.0,451.0 C1523.6,453.9 1526.4,456.2 1530.0,459.0 C1533.6,461.8 1536.4,464.4 1540.0,466.6 C1543.6,468.8 1546.4,469.5 1550.0,471.0 C1553.6,472.5 1556.4,474.1 1560.0,475.0 C1563.6,475.9 1566.4,475.8 1570.0,476.0 C1573.6,476.2 1576.8,476.4 1580.0,476.0 C1583.2,475.6 1585.3,475.3 1588.0,474.0 C1590.7,472.7 1592.8,470.5 1595.0,469.0 C1597.2,467.5 1597.3,467.1 1600.0,465.7 C1602.7,464.3 1606.4,462.8 1610.0,461.0 C1613.6,459.2 1616.4,457.6 1620.0,455.6 C1623.6,453.6 1626.4,451.8 1630.0,450.0 C1633.6,448.2 1636.4,446.5 1640.0,445.5 C1643.6,444.5 1646.4,445.2 1650.0,444.6 C1653.6,444.0 1656.4,443.4 1660.0,442.0 C1663.6,440.6 1666.4,438.4 1670.0,437.0 C1673.6,435.6 1676.8,435.2 1680.0,434.5 C1683.2,433.8 1686.6,433.3 1688.0,433.0" fill="none" stroke="#f4720a" stroke-width="1.8" stroke-linejoin="round"/>
<line x1="0" y1="437.3" x2="1690.9" y2="437.3" stroke="#0f917b" stroke-width="2" stroke-dasharray="2 3.3"/>
<g id="candles">
<rect x="-0.86" y="246.7" width="1.5" height="5.8" fill="#0f9a82"/>
<rect x="-2.46" y="247.5" width="4.7" height="4.2" fill="#0f9a82"/>
<rect x="4.03" y="246.1" width="1.5" height="6.8" fill="#0f9a82"/>
<rect x="2.43" y="246.9" width="4.7" height="5.2" fill="#0f9a82"/>
<rect x="8.92" y="245.8" width="1.5" height="15.5" fill="#f23645"/>
<rect x="7.32" y="246.5" width="4.7" height="9.8" fill="#f23645"/>
<rect x="13.82" y="252.5" width="1.5" height="17.5" fill="#f23645"/>
<rect x="12.22" y="255.0" width="4.7" height="14.2" fill="#f23645"/>
<rect x="18.71" y="261.5" width="1.5" height="9.0" fill="#0f9a82"/>
<rect x="17.11" y="263.4" width="4.7" height="5.8" fill="#0f9a82"/>
<rect x="23.60" y="262.0" width="1.5" height="13.8" fill="#f23645"/>
<rect x="22.00" y="266.3" width="4.7" height="8.7" fill="#f23645"/>
<rect x="28.49" y="273.4" width="1.5" height="14.2" fill="#f23645"/>
<rect x="26.89" y="274.2" width="4.7" height="3.0" fill="#f23645"/>
<rect x="33.38" y="271.5" width="1.5" height="7.5" fill="#0f9a82"/>
<rect x="31.78" y="273.0" width="4.7" height="5.0" fill="#0f9a82"/>
<rect x="38.27" y="270.7" width="1.5" height="10.1" fill="#f23645"/>
<rect x="36.67" y="273.4" width="4.7" height="6.6" fill="#f23645"/>
<rect x="43.17" y="277.6" width="1.5" height="12.9" fill="#f23645"/>
<rect x="41.57" y="278.4" width="4.7" height="11.3" fill="#f23645"/>
<rect x="48.06" y="280.5" width="1.5" height="8.7" fill="#0f9a82"/>
<rect x="46.46" y="283.4" width="4.7" height="5.0" fill="#0f9a82"/>
<rect x="52.95" y="283.5" width="1.5" height="21.5" fill="#f23645"/>
<rect x="51.35" y="284.3" width="4.7" height="13.7" fill="#f23645"/>
<rect x="57.84" y="291.4" width="1.5" height="8.3" fill="#0f9a82"/>
<rect x="56.24" y="293.4" width="4.7" height="5.5" fill="#0f9a82"/>
<rect x="62.73" y="278.0" width="1.5" height="17.1" fill="#0f9a82"/>
<rect x="61.13" y="283.4" width="4.7" height="10.9" fill="#0f9a82"/>
<rect x="67.62" y="275.0" width="1.5" height="11.8" fill="#0f9a82"/>
<rect x="66.02" y="278.4" width="4.7" height="6.3" fill="#0f9a82"/>
<rect x="72.52" y="277.2" width="1.5" height="9.2" fill="#f23645"/>
<rect x="70.92" y="278.0" width="4.7" height="2.5" fill="#f23645"/>
<rect x="77.41" y="278.5" width="1.5" height="16.2" fill="#f23645"/>
<rect x="75.81" y="279.3" width="4.7" height="14.1" fill="#f23645"/>
<rect x="82.30" y="286.0" width="1.5" height="14.0" fill="#f23645"/>
<rect x="80.70" y="291.8" width="4.7" height="3.2" fill="#f23645"/>
<rect x="87.19" y="286.0" width="1.5" height="10.8" fill="#0f9a82"/>
<rect x="85.59" y="290.0" width="4.7" height="6.0" fill="#0f9a82"/>
<rect x="92.08" y="276.3" width="1.5" height="15.5" fill="#0f9a82"/>
<rect x="90.48" y="282.6" width="4.7" height="8.4" fill="#0f9a82"/>
<rect x="96.97" y="280.0" width="1.5" height="8.4" fill="#f23645"/>
<rect x="95.37" y="282.6" width="4.7" height="2.1" fill="#f23645"/>
<rect x="101.87" y="276.3" width="1.5" height="8.8" fill="#0f9a82"/>
<rect x="100.27" y="278.4" width="4.7" height="5.9" fill="#0f9a82"/>
<rect x="106.76" y="270.2" width="1.5" height="10.8" fill="#0f9a82"/>
<rect x="105.16" y="271.0" width="4.7" height="8.3" fill="#0f9a82"/>
<rect x="111.65" y="270.0" width="1.5" height="14.7" fill="#f23645"/>
<rect x="110.05" y="271.3" width="4.7" height="2.1" fill="#f23645"/>
<rect x="116.54" y="268.4" width="1.5" height="7.6" fill="#0f9a82"/>
<rect x="114.94" y="269.2" width="4.7" height="4.2" fill="#0f9a82"/>
<rect x="121.43" y="263.8" width="1.5" height="12.0" fill="#f23645"/>
<rect x="119.83" y="269.2" width="4.7" height="5.8" fill="#f23645"/>
<rect x="126.33" y="266.7" width="1.5" height="9.1" fill="#0f9a82"/>
<rect x="124.73" y="268.4" width="4.7" height="6.6" fill="#0f9a82"/>
<rect x="131.22" y="265.5" width="1.5" height="5.0" fill="#0f9a82"/>
<rect x="129.62" y="266.7" width="4.7" height="2.5" fill="#0f9a82"/>
<rect x="136.11" y="263.8" width="1.5" height="7.9" fill="#f23645"/>
<rect x="134.51" y="267.6" width="4.7" height="1.6" fill="#f23645"/>
<rect x="141.00" y="268.4" width="1.5" height="8.4" fill="#f23645"/>
<rect x="139.40" y="269.2" width="4.7" height="2.5" fill="#f23645"/>
<rect x="145.89" y="271.0" width="1.5" height="7.4" fill="#f23645"/>
<rect x="144.29" y="271.8" width="4.7" height="5.8" fill="#f23645"/>
<rect x="150.78" y="266.3" width="1.5" height="11.3" fill="#0f9a82"/>
<rect x="149.18" y="268.4" width="4.7" height="8.4" fill="#0f9a82"/>
<rect x="155.68" y="261.3" width="1.5" height="13.0" fill="#0f9a82"/>
<rect x="154.08" y="264.2" width="4.7" height="5.8" fill="#0f9a82"/>
<rect x="160.57" y="260.0" width="1.5" height="6.3" fill="#0f9a82"/>
<rect x="158.97" y="261.7" width="4.7" height="3.8" fill="#0f9a82"/>
<rect x="165.46" y="260.9" width="1.5" height="6.6" fill="#f23645"/>
<rect x="163.86" y="261.7" width="4.7" height="5.0" fill="#f23645"/>
<rect x="170.35" y="257.1" width="1.5" height="10.0" fill="#0f9a82"/>
<rect x="168.75" y="258.4" width="4.7" height="7.9" fill="#0f9a82"/>
<rect x="175.24" y="253.0" width="1.5" height="7.0" fill="#0f9a82"/>
<rect x="173.64" y="253.8" width="4.7" height="5.4" fill="#0f9a82"/>
<rect x="180.13" y="253.4" width="1.5" height="5.4" fill="#f23645"/>
<rect x="178.53" y="254.6" width="4.7" height="3.4" fill="#f23645"/>
<rect x="185.03" y="254.2" width="1.5" height="5.5" fill="#0f9a82"/>
<rect x="183.43" y="255.0" width="4.7" height="3.4" fill="#0f9a82"/>
<rect x="189.92" y="251.7" width="1.5" height="6.7" fill="#f23645"/>
<rect x="188.32" y="255.0" width="4.7" height="2.6" fill="#f23645"/>
<rect x="194.81" y="256.4" width="1.5" height="4.9" fill="#f23645"/>
<rect x="193.21" y="257.2" width="4.7" height="3.3" fill="#f23645"/>
<rect x="199.70" y="251.7" width="1.5" height="9.6" fill="#0f9a82"/>
<rect x="198.10" y="254.2" width="4.7" height="6.3" fill="#0f9a82"/>
<rect x="204.59" y="251.7" width="1.5" height="8.0" fill="#f23645"/>
<rect x="202.99" y="254.2" width="4.7" height="4.2" fill="#f23645"/>
<rect x="209.48" y="253.8" width="1.5" height="4.6" fill="#0f9a82"/>
<rect x="207.88" y="255.9" width="4.7" height="1.7" fill="#0f9a82"/>
<rect x="214.38" y="255.5" width="1.5" height="3.7" fill="#f23645"/>
<rect x="212.78" y="256.3" width="4.7" height="1.7" fill="#f23645"/>
<rect x="219.27" y="255.0" width="1.5" height="5.0" fill="#f23645"/>
<rect x="217.67" y="256.3" width="4.7" height="2.9" fill="#f23645"/>
<rect x="224.16" y="254.2" width="1.5" height="5.8" fill="#0f9a82"/>
<rect x="222.56" y="257.2" width="4.7" height="2.0" fill="#0f9a82"/>
<rect x="229.05" y="250.9" width="1.5" height="8.8" fill="#0f9a82"/>
<rect x="227.45" y="251.7" width="4.7" height="5.9" fill="#0f9a82"/>
<rect x="233.94" y="248.8" width="1.5" height="4.6" fill="#f23645"/>
<rect x="232.34" y="249.6" width="4.7" height="3.0" fill="#f23645"/>
<rect x="238.83" y="248.0" width="1.5" height="4.5" fill="#0f9a82"/>
<rect x="237.23" y="248.8" width="4.7" height="2.9" fill="#0f9a82"/>
<rect x="243.73" y="244.2" width="1.5" height="5.8" fill="#0f9a82"/>
<rect x="242.13" y="245.5" width="4.7" height="3.7" fill="#0f9a82"/>
<rect x="248.62" y="241.7" width="1.5" height="10.9" fill="#f23645"/>
<rect x="247.02" y="245.9" width="4.7" height="5.4" fill="#f23645"/>
<rect x="253.51" y="247.5" width="1.5" height="4.2" fill="#0f9a82"/>
<rect x="251.91" y="249.0" width="4.7" height="1.2" fill="#0f9a82"/>
<rect x="258.40" y="248.4" width="1.5" height="9.2" fill="#f23645"/>
<rect x="256.80" y="250.0" width="4.7" height="5.5" fill="#f23645"/>
<rect x="263.29" y="250.9" width="1.5" height="4.5" fill="#0f9a82"/>
<rect x="261.69" y="251.7" width="4.7" height="2.9" fill="#0f9a82"/>
<rect x="268.18" y="248.4" width="1.5" height="6.2" fill="#f23645"/>
<rect x="266.58" y="251.7" width="4.7" height="2.1" fill="#f23645"/>
<rect x="273.08" y="249.2" width="1.5" height="6.2" fill="#f23645"/>
<rect x="271.48" y="251.3" width="4.7" height="3.3" fill="#f23645"/>
<rect x="277.97" y="251.7" width="1.5" height="2.5" fill="#0f9a82"/>
<rect x="276.37" y="252.0" width="4.7" height="1.2" fill="#0f9a82"/>
<rect x="282.86" y="248.4" width="1.5" height="5.0" fill="#0f9a82"/>
<rect x="281.26" y="250.9" width="4.7" height="1.7" fill="#0f9a82"/>
<rect x="287.75" y="248.4" width="1.5" height="4.1" fill="#0f9a82"/>
<rect x="286.15" y="249.6" width="4.7" height="2.1" fill="#0f9a82"/>
<rect x="292.64" y="244.7" width="1.5" height="5.4" fill="#0f9a82"/>
<rect x="291.04" y="245.5" width="4.7" height="3.8" fill="#0f9a82"/>
<rect x="297.53" y="240.5" width="1.5" height="7.1" fill="#0f9a82"/>
<rect x="295.93" y="241.3" width="4.7" height="5.5" fill="#0f9a82"/>
<rect x="302.43" y="235.0" width="1.5" height="8.8" fill="#0f9a82"/>
<rect x="300.83" y="236.7" width="4.7" height="6.3" fill="#0f9a82"/>
<rect x="307.32" y="232.6" width="1.5" height="7.4" fill="#0f9a82"/>
<rect x="305.72" y="233.4" width="4.7" height="5.8" fill="#0f9a82"/>
<rect x="312.21" y="230.0" width="1.5" height="6.7" fill="#0f9a82"/>
<rect x="310.61" y="231.7" width="4.7" height="4.2" fill="#0f9a82"/>
<rect x="317.10" y="230.5" width="1.5" height="7.0" fill="#f23645"/>
<rect x="315.50" y="231.7" width="4.7" height="5.0" fill="#f23645"/>
<rect x="321.99" y="231.3" width="1.5" height="5.8" fill="#0f9a82"/>
<rect x="320.39" y="232.1" width="4.7" height="4.2" fill="#0f9a82"/>
<rect x="326.88" y="233.0" width="1.5" height="5.4" fill="#f23645"/>
<rect x="325.28" y="233.8" width="4.7" height="3.8" fill="#f23645"/>
<rect x="331.78" y="228.4" width="1.5" height="10.0" fill="#0f9a82"/>
<rect x="330.18" y="229.2" width="4.7" height="8.4" fill="#0f9a82"/>
<rect x="336.67" y="228.8" width="1.5" height="9.6" fill="#f23645"/>
<rect x="335.07" y="229.6" width="4.7" height="8.0" fill="#f23645"/>
<rect x="341.56" y="227.6" width="1.5" height="10.8" fill="#0f9a82"/>
<rect x="339.96" y="228.4" width="4.7" height="9.2" fill="#0f9a82"/>
<rect x="346.45" y="227.6" width="1.5" height="5.0" fill="#0f9a82"/>
<rect x="344.85" y="228.4" width="4.7" height="1.2" fill="#0f9a82"/>
<rect x="351.34" y="227.2" width="1.5" height="4.5" fill="#f23645"/>
<rect x="349.74" y="228.0" width="4.7" height="2.9" fill="#f23645"/>
<rect x="356.24" y="227.6" width="1.5" height="7.4" fill="#f23645"/>
<rect x="354.63" y="228.4" width="4.7" height="5.8" fill="#f23645"/>
<rect x="361.13" y="232.6" width="1.5" height="6.6" fill="#f23645"/>
<rect x="359.53" y="233.4" width="4.7" height="5.0" fill="#f23645"/>
<rect x="366.02" y="235.1" width="1.5" height="15.4" fill="#f23645"/>
<rect x="364.42" y="235.9" width="4.7" height="4.6" fill="#f23645"/>
<rect x="370.91" y="236.7" width="1.5" height="6.7" fill="#0f9a82"/>
<rect x="369.31" y="238.4" width="4.7" height="2.1" fill="#0f9a82"/>
<rect x="375.80" y="234.2" width="1.5" height="7.5" fill="#0f9a82"/>
<rect x="374.20" y="236.7" width="4.7" height="2.5" fill="#0f9a82"/>
<rect x="380.69" y="229.2" width="1.5" height="10.0" fill="#0f9a82"/>
<rect x="379.09" y="235.0" width="4.7" height="3.4" fill="#0f9a82"/>
<rect x="385.59" y="233.0" width="1.5" height="6.2" fill="#0f9a82"/>
<rect x="383.99" y="235.0" width="4.7" height="3.0" fill="#0f9a82"/>
<rect x="390.48" y="235.1" width="1.5" height="6.6" fill="#0f9a82"/>
<rect x="388.88" y="235.9" width="4.7" height="1.2" fill="#0f9a82"/>
<rect x="395.37" y="231.3" width="1.5" height="8.3" fill="#f23645"/>
<rect x="393.77" y="236.3" width="4.7" height="2.5" fill="#f23645"/>
<rect x="400.26" y="235.9" width="1.5" height="8.3" fill="#f23645"/>
<rect x="398.66" y="236.7" width="4.7" height="6.7" fill="#f23645"/>
<rect x="405.15" y="240.5" width="1.5" height="13.7" fill="#f23645"/>
<rect x="403.55" y="241.3" width="4.7" height="12.1" fill="#f23645"/>
<rect x="410.04" y="249.3" width="1.5" height="10.4" fill="#f23645"/>
<rect x="408.44" y="251.0" width="4.7" height="3.3" fill="#f23645"/>
<rect x="414.94" y="241.8" width="1.5" height="12.8" fill="#0f9a82"/>
<rect x="413.34" y="242.6" width="4.7" height="11.2" fill="#0f9a82"/>
<rect x="419.83" y="235.1" width="1.5" height="9.2" fill="#0f9a82"/>
<rect x="418.23" y="235.9" width="4.7" height="7.6" fill="#0f9a82"/>
<rect x="424.72" y="233.2" width="1.5" height="8.9" fill="#f23645"/>
<rect x="423.12" y="235.0" width="4.7" height="6.2" fill="#f23645"/>
<rect x="429.61" y="236.8" width="1.5" height="5.8" fill="#0f9a82"/>
<rect x="428.01" y="237.6" width="4.7" height="3.6" fill="#0f9a82"/>
<rect x="434.50" y="231.4" width="1.5" height="7.0" fill="#0f9a82"/>
<rect x="432.90" y="236.0" width="4.7" height="1.6" fill="#0f9a82"/>
<rect x="439.39" y="233.6" width="1.5" height="9.0" fill="#f23645"/>
<rect x="437.79" y="235.8" width="4.7" height="5.9" fill="#f23645"/>
<rect x="444.29" y="238.6" width="1.5" height="16.0" fill="#f23645"/>
<rect x="442.69" y="239.4" width="4.7" height="13.5" fill="#f23645"/>
<rect x="449.18" y="236.7" width="1.5" height="15.1" fill="#0f9a82"/>
<rect x="447.58" y="246.1" width="4.7" height="4.9" fill="#0f9a82"/>
<rect x="454.07" y="245.2" width="1.5" height="7.7" fill="#f23645"/>
<rect x="452.47" y="246.6" width="4.7" height="3.1" fill="#f23645"/>
<rect x="458.96" y="246.6" width="1.5" height="8.4" fill="#0f9a82"/>
<rect x="457.36" y="247.5" width="4.7" height="3.5" fill="#0f9a82"/>
<rect x="463.85" y="205.4" width="1.5" height="47.5" fill="#0f9a82"/>
<rect x="462.25" y="209.0" width="4.7" height="39.0" fill="#0f9a82"/>
<rect x="468.74" y="184.0" width="1.5" height="29.5" fill="#0f9a82"/>
<rect x="467.14" y="201.4" width="4.7" height="11.2" fill="#0f9a82"/>
<rect x="473.39" y="201.0" width="2.0" height="669.0" fill="#f23645"/>
<rect x="471.79" y="201.0" width="5.2" height="274.0" fill="#f23645"/>
<rect x="478.53" y="405.2" width="1.5" height="165.8" fill="#f23645"/>
<rect x="476.93" y="475.9" width="4.7" height="43.1" fill="#f23645"/>
<rect x="483.42" y="431.0" width="1.5" height="93.0" fill="#0f9a82"/>
<rect x="481.82" y="464.0" width="4.7" height="55.0" fill="#0f9a82"/>
<rect x="488.31" y="415.5" width="1.5" height="55.5" fill="#0f9a82"/>
<rect x="486.71" y="432.0" width="4.7" height="32.5" fill="#0f9a82"/>
<rect x="493.20" y="402.0" width="1.5" height="44.4" fill="#f23645"/>
<rect x="491.60" y="432.0" width="4.7" height="9.0" fill="#f23645"/>
<rect x="498.09" y="438.0" width="1.5" height="134.0" fill="#f23645"/>
<rect x="496.49" y="440.0" width="4.7" height="22.5" fill="#f23645"/>
<rect x="502.99" y="460.8" width="1.5" height="56.2" fill="#f23645"/>
<rect x="501.39" y="461.6" width="4.7" height="18.7" fill="#f23645"/>
<rect x="507.88" y="464.2" width="1.5" height="20.6" fill="#0f9a82"/>
<rect x="506.28" y="476.8" width="4.7" height="3.5" fill="#0f9a82"/>
<rect x="512.77" y="420.9" width="1.5" height="56.7" fill="#0f9a82"/>
<rect x="511.17" y="450.8" width="4.7" height="26.0" fill="#0f9a82"/>
<rect x="517.66" y="436.5" width="1.5" height="34.0" fill="#0f9a82"/>
<rect x="516.06" y="447.5" width="4.7" height="2.0" fill="#0f9a82"/>
<rect x="522.55" y="420.0" width="1.5" height="30.0" fill="#0f9a82"/>
<rect x="520.95" y="437.4" width="4.7" height="11.6" fill="#0f9a82"/>
<rect x="527.44" y="425.8" width="1.5" height="19.2" fill="#f23645"/>
<rect x="525.84" y="437.4" width="4.7" height="6.3" fill="#f23645"/>
<rect x="532.34" y="412.0" width="1.5" height="33.0" fill="#0f9a82"/>
<rect x="530.74" y="414.2" width="4.7" height="29.5" fill="#0f9a82"/>
<rect x="537.23" y="381.0" width="1.5" height="40.0" fill="#0f9a82"/>
<rect x="535.63" y="404.3" width="4.7" height="10.7" fill="#0f9a82"/>
<rect x="542.12" y="395.4" width="1.5" height="17.0" fill="#f23645"/>
<rect x="540.52" y="403.9" width="4.7" height="2.6" fill="#f23645"/>
<rect x="547.01" y="399.0" width="1.5" height="22.8" fill="#f23645"/>
<rect x="545.41" y="406.0" width="4.7" height="11.7" fill="#f23645"/>
<rect x="551.90" y="414.7" width="1.5" height="25.3" fill="#0f9a82"/>
<rect x="550.30" y="415.5" width="4.7" height="2.0" fill="#0f9a82"/>
<rect x="556.79" y="412.8" width="1.5" height="22.8" fill="#f23645"/>
<rect x="555.19" y="416.8" width="4.7" height="17.0" fill="#f23645"/>
<rect x="561.69" y="412.0" width="1.5" height="25.4" fill="#0f9a82"/>
<rect x="560.09" y="423.0" width="4.7" height="10.8" fill="#0f9a82"/>
<rect x="566.58" y="418.6" width="1.5" height="13.4" fill="#f23645"/>
<rect x="564.98" y="422.6" width="4.7" height="2.0" fill="#f23645"/>
<rect x="571.47" y="405.6" width="1.5" height="20.6" fill="#0f9a82"/>
<rect x="569.87" y="409.2" width="4.7" height="14.8" fill="#0f9a82"/>
<rect x="576.36" y="406.5" width="1.5" height="18.8" fill="#f23645"/>
<rect x="574.76" y="409.2" width="4.7" height="11.2" fill="#f23645"/>
<rect x="581.25" y="411.5" width="1.5" height="19.0" fill="#f23645"/>
<rect x="579.65" y="420.0" width="4.7" height="9.8" fill="#f23645"/>
<rect x="586.14" y="421.8" width="1.5" height="22.2" fill="#f23645"/>
<rect x="584.54" y="429.8" width="4.7" height="13.0" fill="#f23645"/>
<rect x="591.04" y="433.8" width="1.5" height="37.5" fill="#f23645"/>
<rect x="589.44" y="441.9" width="4.7" height="28.6" fill="#f23645"/>
<rect x="595.93" y="453.5" width="1.5" height="17.5" fill="#0f9a82"/>
<rect x="594.33" y="462.9" width="4.7" height="7.6" fill="#0f9a82"/>
<rect x="600.82" y="453.5" width="1.5" height="14.3" fill="#0f9a82"/>
<rect x="599.22" y="454.0" width="4.7" height="8.5" fill="#0f9a82"/>
<rect x="605.71" y="446.4" width="1.5" height="16.1" fill="#0f9a82"/>
<rect x="604.11" y="450.8" width="4.7" height="2.7" fill="#0f9a82"/>
<rect x="610.60" y="437.0" width="1.5" height="14.5" fill="#0f9a82"/>
<rect x="609.00" y="441.9" width="4.7" height="8.9" fill="#0f9a82"/>
<rect x="615.50" y="434.3" width="1.5" height="11.6" fill="#f23645"/>
<rect x="613.90" y="442.3" width="4.7" height="2.3" fill="#f23645"/>
<rect x="620.39" y="443.3" width="1.5" height="10.7" fill="#0f9a82"/>
<rect x="618.79" y="443.7" width="4.7" height="1.3" fill="#0f9a82"/>
<rect x="625.28" y="433.0" width="1.5" height="13.0" fill="#0f9a82"/>
<rect x="623.68" y="434.7" width="4.7" height="9.4" fill="#0f9a82"/>
<rect x="630.17" y="419.6" width="1.5" height="16.2" fill="#0f9a82"/>
<rect x="628.57" y="420.4" width="4.7" height="14.6" fill="#0f9a82"/>
<rect x="635.06" y="418.0" width="1.5" height="19.8" fill="#f23645"/>
<rect x="633.46" y="420.0" width="4.7" height="17.0" fill="#f23645"/>
<rect x="639.95" y="436.2" width="1.5" height="14.8" fill="#f23645"/>
<rect x="638.35" y="437.0" width="4.7" height="12.0" fill="#f23645"/>
<rect x="644.85" y="444.2" width="1.5" height="7.8" fill="#0f9a82"/>
<rect x="643.25" y="445.0" width="4.7" height="4.0" fill="#0f9a82"/>
<rect x="649.74" y="440.0" width="1.5" height="14.0" fill="#f23645"/>
<rect x="648.14" y="445.0" width="4.7" height="7.0" fill="#f23645"/>
<rect x="654.63" y="449.2" width="1.5" height="13.6" fill="#f23645"/>
<rect x="653.03" y="450.0" width="4.7" height="12.0" fill="#f23645"/>
<rect x="659.52" y="459.2" width="1.5" height="13.8" fill="#f23645"/>
<rect x="657.92" y="460.0" width="4.7" height="11.0" fill="#f23645"/>
<rect x="664.41" y="456.0" width="1.5" height="15.8" fill="#0f9a82"/>
<rect x="662.81" y="459.0" width="4.7" height="12.0" fill="#0f9a82"/>
<rect x="669.30" y="451.0" width="1.5" height="8.8" fill="#0f9a82"/>
<rect x="667.70" y="453.0" width="4.7" height="6.0" fill="#0f9a82"/>
<rect x="674.20" y="446.0" width="1.5" height="7.8" fill="#0f9a82"/>
<rect x="672.60" y="448.0" width="4.7" height="5.0" fill="#0f9a82"/>
<rect x="679.09" y="447.2" width="1.5" height="12.6" fill="#f23645"/>
<rect x="677.49" y="448.0" width="4.7" height="11.0" fill="#f23645"/>
<rect x="683.98" y="457.2" width="1.5" height="10.8" fill="#f23645"/>
<rect x="682.38" y="458.0" width="4.7" height="8.0" fill="#f23645"/>
<rect x="688.87" y="454.0" width="1.5" height="17.0" fill="#0f9a82"/>
<rect x="687.27" y="457.0" width="4.7" height="9.0" fill="#0f9a82"/>
<rect x="693.76" y="448.0" width="1.5" height="9.8" fill="#0f9a82"/>
<rect x="692.16" y="452.0" width="4.7" height="5.0" fill="#0f9a82"/>
<rect x="698.65" y="449.0" width="1.5" height="11.0" fill="#0f9a82"/>
<rect x="697.05" y="452.0" width="4.7" height="4.0" fill="#0f9a82"/>
<rect x="703.55" y="449.0" width="1.5" height="12.0" fill="#0f9a82"/>
<rect x="701.95" y="452.0" width="4.7" height="3.0" fill="#0f9a82"/>
<rect x="708.44" y="443.0" width="1.5" height="13.8" fill="#f23645"/>
<rect x="706.84" y="451.0" width="4.7" height="5.0" fill="#f23645"/>
<rect x="713.33" y="454.2" width="1.5" height="6.6" fill="#f23645"/>
<rect x="711.73" y="455.0" width="4.7" height="5.0" fill="#f23645"/>
<rect x="718.22" y="459.2" width="1.5" height="14.8" fill="#f23645"/>
<rect x="716.62" y="460.0" width="4.7" height="12.0" fill="#f23645"/>
<rect x="723.11" y="463.0" width="1.5" height="11.0" fill="#0f9a82"/>
<rect x="721.51" y="468.0" width="4.7" height="4.0" fill="#0f9a82"/>
<rect x="728.00" y="465.0" width="1.5" height="8.8" fill="#f23645"/>
<rect x="726.40" y="468.0" width="4.7" height="5.0" fill="#f23645"/>
<rect x="732.90" y="471.2" width="1.5" height="5.6" fill="#f23645"/>
<rect x="731.30" y="472.0" width="4.7" height="4.0" fill="#f23645"/>
<rect x="737.79" y="473.2" width="1.5" height="3.6" fill="#0f9a82"/>
<rect x="736.19" y="474.0" width="4.7" height="2.0" fill="#0f9a82"/>
<rect x="742.68" y="473.2" width="1.5" height="8.8" fill="#f23645"/>
<rect x="741.08" y="474.0" width="4.7" height="6.0" fill="#f23645"/>
<rect x="747.57" y="478.2" width="1.5" height="8.8" fill="#f23645"/>
<rect x="745.97" y="479.0" width="4.7" height="6.0" fill="#f23645"/>
<rect x="752.46" y="482.2" width="1.5" height="11.8" fill="#f23645"/>
<rect x="750.86" y="483.0" width="4.7" height="9.0" fill="#f23645"/>
<rect x="757.35" y="460.0" width="1.5" height="32.8" fill="#0f9a82"/>
<rect x="755.75" y="463.0" width="4.7" height="29.0" fill="#0f9a82"/>
<rect x="762.25" y="465.2" width="1.5" height="19.8" fill="#f23645"/>
<rect x="760.65" y="466.0" width="4.7" height="17.0" fill="#f23645"/>
<rect x="767.14" y="478.2" width="1.5" height="26.6" fill="#f23645"/>
<rect x="765.54" y="479.0" width="4.7" height="25.0" fill="#f23645"/>
<rect x="772.03" y="497.2" width="1.5" height="14.8" fill="#0f9a82"/>
<rect x="770.43" y="498.0" width="4.7" height="12.0" fill="#0f9a82"/>
<rect x="776.92" y="502.2" width="1.5" height="26.8" fill="#f23645"/>
<rect x="775.32" y="503.0" width="4.7" height="9.0" fill="#f23645"/>
<rect x="781.81" y="503.0" width="1.5" height="16.0" fill="#f23645"/>
<rect x="780.21" y="510.0" width="4.7" height="7.0" fill="#f23645"/>
<rect x="786.70" y="512.2" width="1.5" height="7.8" fill="#0f9a82"/>
<rect x="785.10" y="513.0" width="4.7" height="5.0" fill="#0f9a82"/>
<rect x="791.60" y="500.0" width="1.5" height="13.8" fill="#0f9a82"/>
<rect x="790.00" y="505.0" width="4.7" height="8.0" fill="#0f9a82"/>
<rect x="796.49" y="499.0" width="1.5" height="7.8" fill="#0f9a82"/>
<rect x="794.89" y="503.0" width="4.7" height="3.0" fill="#0f9a82"/>
<rect x="801.38" y="502.2" width="1.5" height="15.8" fill="#f23645"/>
<rect x="799.78" y="503.0" width="4.7" height="2.0" fill="#f23645"/>
<rect x="806.27" y="504.2" width="1.5" height="4.6" fill="#f23645"/>
<rect x="804.67" y="505.0" width="4.7" height="3.0" fill="#f23645"/>
<rect x="811.16" y="506.2" width="1.5" height="9.6" fill="#f23645"/>
<rect x="809.56" y="507.0" width="4.7" height="8.0" fill="#f23645"/>
<rect x="816.05" y="513.2" width="1.5" height="9.8" fill="#f23645"/>
<rect x="814.45" y="514.0" width="4.7" height="5.0" fill="#f23645"/>
<rect x="820.95" y="505.0" width="1.5" height="14.8" fill="#0f9a82"/>
<rect x="819.35" y="510.0" width="4.7" height="9.0" fill="#0f9a82"/>
<rect x="825.84" y="493.0" width="1.5" height="17.8" fill="#0f9a82"/>
<rect x="824.24" y="498.0" width="4.7" height="12.0" fill="#0f9a82"/>
<rect x="830.73" y="495.0" width="1.5" height="16.0" fill="#f23645"/>
<rect x="829.13" y="497.0" width="4.7" height="8.0" fill="#f23645"/>
<rect x="835.62" y="497.0" width="1.5" height="10.8" fill="#f23645"/>
<rect x="834.02" y="503.0" width="4.7" height="4.0" fill="#f23645"/>
<rect x="840.51" y="491.0" width="1.5" height="14.8" fill="#0f9a82"/>
<rect x="838.91" y="498.0" width="4.7" height="7.0" fill="#0f9a82"/>
<rect x="845.40" y="492.2" width="1.5" height="8.6" fill="#0f9a82"/>
<rect x="843.80" y="493.0" width="4.7" height="7.0" fill="#0f9a82"/>
<rect x="850.30" y="487.2" width="1.5" height="7.6" fill="#0f9a82"/>
<rect x="848.70" y="488.0" width="4.7" height="6.0" fill="#0f9a82"/>
<rect x="855.19" y="472.2" width="1.5" height="18.6" fill="#0f9a82"/>
<rect x="853.59" y="473.0" width="4.7" height="17.0" fill="#0f9a82"/>
<rect x="860.08" y="455.0" width="1.5" height="18.8" fill="#0f9a82"/>
<rect x="858.48" y="458.0" width="4.7" height="15.0" fill="#0f9a82"/>
<rect x="864.97" y="444.2" width="1.5" height="16.6" fill="#0f9a82"/>
<rect x="863.37" y="445.0" width="4.7" height="15.0" fill="#0f9a82"/>
<rect x="869.86" y="439.0" width="1.5" height="24.8" fill="#f23645"/>
<rect x="868.26" y="445.0" width="4.7" height="18.0" fill="#f23645"/>
<rect x="874.76" y="462.2" width="1.5" height="5.8" fill="#f23645"/>
<rect x="873.16" y="463.0" width="4.7" height="3.0" fill="#f23645"/>
<rect x="879.65" y="464.2" width="1.5" height="3.6" fill="#f23645"/>
<rect x="878.05" y="465.0" width="4.7" height="2.0" fill="#f23645"/>
<rect x="884.54" y="458.0" width="1.5" height="13.0" fill="#0f9a82"/>
<rect x="882.94" y="462.0" width="4.7" height="5.0" fill="#0f9a82"/>
<rect x="889.43" y="443.2" width="1.5" height="22.6" fill="#0f9a82"/>
<rect x="887.83" y="444.0" width="4.7" height="21.0" fill="#0f9a82"/>
<rect x="894.32" y="440.0" width="1.5" height="27.0" fill="#f23645"/>
<rect x="892.72" y="444.0" width="4.7" height="14.0" fill="#f23645"/>
<rect x="899.21" y="451.2" width="1.5" height="5.6" fill="#0f9a82"/>
<rect x="897.61" y="452.0" width="4.7" height="4.0" fill="#0f9a82"/>
<rect x="904.11" y="450.2" width="1.5" height="3.6" fill="#0f9a82"/>
<rect x="902.51" y="451.0" width="4.7" height="2.0" fill="#0f9a82"/>
<rect x="909.00" y="442.0" width="1.5" height="10.8" fill="#0f9a82"/>
<rect x="907.40" y="449.0" width="4.7" height="3.0" fill="#0f9a82"/>
<rect x="913.89" y="442.0" width="1.5" height="15.0" fill="#0f9a82"/>
<rect x="912.29" y="447.0" width="4.7" height="3.0" fill="#0f9a82"/>
<rect x="918.78" y="445.0" width="1.5" height="6.0" fill="#0f9a82"/>
<rect x="917.18" y="447.0" width="4.7" height="2.0" fill="#0f9a82"/>
<rect x="923.67" y="443.0" width="1.5" height="7.0" fill="#0f9a82"/>
<rect x="922.07" y="446.0" width="4.7" height="2.0" fill="#0f9a82"/>
<rect x="928.56" y="444.2" width="1.5" height="6.8" fill="#f23645"/>
<rect x="926.96" y="445.0" width="4.7" height="4.0" fill="#f23645"/>
<rect x="933.46" y="432.0" width="1.5" height="36.0" fill="#0f9a82"/>
<rect x="931.86" y="438.0" width="4.7" height="11.0" fill="#0f9a82"/>
<rect x="938.35" y="438.2" width="1.5" height="17.6" fill="#f23645"/>
<rect x="936.75" y="439.0" width="4.7" height="16.0" fill="#f23645"/>
<rect x="943.24" y="450.0" width="1.5" height="17.0" fill="#f23645"/>
<rect x="941.64" y="452.0" width="4.7" height="8.0" fill="#f23645"/>
<rect x="948.13" y="454.2" width="1.5" height="8.8" fill="#f23645"/>
<rect x="946.53" y="455.0" width="4.7" height="5.0" fill="#f23645"/>
<rect x="953.02" y="452.0" width="1.5" height="7.8" fill="#0f9a82"/>
<rect x="951.42" y="454.0" width="4.7" height="5.0" fill="#0f9a82"/>
<rect x="957.91" y="446.0" width="1.5" height="16.0" fill="#0f9a82"/>
<rect x="956.31" y="452.0" width="4.7" height="4.0" fill="#0f9a82"/>
<rect x="962.81" y="442.0" width="1.5" height="13.0" fill="#0f9a82"/>
<rect x="961.21" y="449.0" width="4.7" height="3.0" fill="#0f9a82"/>
<rect x="967.70" y="445.0" width="1.5" height="4.8" fill="#0f9a82"/>
<rect x="966.10" y="447.0" width="4.7" height="2.0" fill="#0f9a82"/>
<rect x="972.59" y="444.0" width="1.5" height="11.0" fill="#f23645"/>
<rect x="970.99" y="447.0" width="4.7" height="5.0" fill="#f23645"/>
<rect x="977.48" y="436.2" width="1.5" height="14.6" fill="#0f9a82"/>
<rect x="975.88" y="437.0" width="4.7" height="13.0" fill="#0f9a82"/>
<rect x="982.37" y="436.2" width="1.5" height="11.6" fill="#f23645"/>
<rect x="980.77" y="437.0" width="4.7" height="10.0" fill="#f23645"/>
<rect x="987.26" y="428.2" width="1.5" height="18.6" fill="#0f9a82"/>
<rect x="985.66" y="429.0" width="4.7" height="17.0" fill="#0f9a82"/>
<rect x="992.16" y="418.0" width="1.5" height="15.8" fill="#0f9a82"/>
<rect x="990.56" y="427.0" width="4.7" height="6.0" fill="#0f9a82"/>
<rect x="997.05" y="426.0" width="1.5" height="15.0" fill="#f23645"/>
<rect x="995.45" y="428.0" width="4.7" height="10.0" fill="#f23645"/>
<rect x="1001.94" y="409.0" width="1.5" height="27.8" fill="#0f9a82"/>
<rect x="1000.34" y="428.0" width="4.7" height="8.0" fill="#0f9a82"/>
<rect x="1006.83" y="429.2" width="1.5" height="12.8" fill="#f23645"/>
<rect x="1005.23" y="430.0" width="4.7" height="6.0" fill="#f23645"/>
<rect x="1011.72" y="422.0" width="1.5" height="15.0" fill="#0f9a82"/>
<rect x="1010.12" y="427.0" width="4.7" height="7.0" fill="#0f9a82"/>
<rect x="1016.61" y="426.0" width="1.5" height="9.8" fill="#f23645"/>
<rect x="1015.01" y="428.0" width="4.7" height="7.0" fill="#f23645"/>
<rect x="1021.51" y="428.2" width="1.5" height="11.8" fill="#f23645"/>
<rect x="1019.91" y="429.0" width="4.7" height="8.0" fill="#f23645"/>
<rect x="1026.40" y="428.2" width="1.5" height="9.8" fill="#0f9a82"/>
<rect x="1024.80" y="429.0" width="4.7" height="7.0" fill="#0f9a82"/>
<rect x="1031.29" y="417.0" width="1.5" height="13.8" fill="#0f9a82"/>
<rect x="1029.69" y="420.0" width="4.7" height="10.0" fill="#0f9a82"/>
<rect x="1036.18" y="419.2" width="1.5" height="11.6" fill="#0f9a82"/>
<rect x="1034.58" y="420.0" width="4.7" height="10.0" fill="#0f9a82"/>
<rect x="1041.07" y="417.2" width="1.5" height="10.6" fill="#0f9a82"/>
<rect x="1039.47" y="418.0" width="4.7" height="9.0" fill="#0f9a82"/>
<rect x="1045.96" y="411.0" width="1.5" height="9.8" fill="#0f9a82"/>
<rect x="1044.36" y="414.0" width="4.7" height="6.0" fill="#0f9a82"/>
<rect x="1050.86" y="406.0" width="1.5" height="24.0" fill="#0f9a82"/>
<rect x="1049.26" y="408.0" width="4.7" height="10.0" fill="#0f9a82"/>
<rect x="1055.75" y="404.2" width="1.5" height="8.6" fill="#0f9a82"/>
<rect x="1054.15" y="405.0" width="4.7" height="7.0" fill="#0f9a82"/>
<rect x="1060.64" y="402.0" width="1.5" height="12.8" fill="#f23645"/>
<rect x="1059.04" y="404.0" width="4.7" height="10.0" fill="#f23645"/>
<rect x="1065.53" y="412.2" width="1.5" height="12.8" fill="#f23645"/>
<rect x="1063.93" y="413.0" width="4.7" height="9.0" fill="#f23645"/>
<rect x="1070.42" y="417.2" width="1.5" height="9.8" fill="#0f9a82"/>
<rect x="1068.82" y="418.0" width="4.7" height="4.0" fill="#0f9a82"/>
<rect x="1075.31" y="406.0" width="1.5" height="14.8" fill="#0f9a82"/>
<rect x="1073.71" y="408.0" width="4.7" height="12.0" fill="#0f9a82"/>
<rect x="1080.21" y="409.2" width="1.5" height="11.6" fill="#f23645"/>
<rect x="1078.61" y="410.0" width="4.7" height="10.0" fill="#f23645"/>
<rect x="1085.10" y="419.2" width="1.5" height="12.8" fill="#f23645"/>
<rect x="1083.50" y="420.0" width="4.7" height="10.0" fill="#f23645"/>
<rect x="1089.99" y="425.0" width="1.5" height="6.8" fill="#f23645"/>
<rect x="1088.39" y="428.0" width="4.7" height="3.0" fill="#f23645"/>
<rect x="1094.88" y="430.2" width="1.5" height="9.8" fill="#f23645"/>
<rect x="1093.28" y="431.0" width="4.7" height="6.0" fill="#f23645"/>
<rect x="1099.77" y="403.0" width="1.5" height="34.8" fill="#0f9a82"/>
<rect x="1098.17" y="405.0" width="4.7" height="32.0" fill="#0f9a82"/>
<rect x="1104.67" y="405.2" width="1.5" height="9.6" fill="#f23645"/>
<rect x="1103.07" y="406.0" width="4.7" height="8.0" fill="#f23645"/>
<rect x="1109.56" y="408.0" width="1.5" height="7.8" fill="#f23645"/>
<rect x="1107.96" y="412.0" width="4.7" height="3.0" fill="#f23645"/>
<rect x="1114.45" y="410.2" width="1.5" height="4.6" fill="#0f9a82"/>
<rect x="1112.85" y="411.0" width="4.7" height="3.0" fill="#0f9a82"/>
<rect x="1119.34" y="410.2" width="1.5" height="14.8" fill="#f23645"/>
<rect x="1117.74" y="411.0" width="4.7" height="11.0" fill="#f23645"/>
<rect x="1124.23" y="413.2" width="1.5" height="8.6" fill="#0f9a82"/>
<rect x="1122.63" y="414.0" width="4.7" height="7.0" fill="#0f9a82"/>
<rect x="1129.12" y="408.2" width="1.5" height="6.6" fill="#0f9a82"/>
<rect x="1127.52" y="409.0" width="4.7" height="5.0" fill="#0f9a82"/>
<rect x="1134.02" y="402.0" width="1.5" height="7.8" fill="#0f9a82"/>
<rect x="1132.42" y="405.0" width="4.7" height="4.0" fill="#0f9a82"/>
<rect x="1138.91" y="401.0" width="1.5" height="10.8" fill="#f23645"/>
<rect x="1137.31" y="403.0" width="4.7" height="8.0" fill="#f23645"/>
<rect x="1143.80" y="403.0" width="1.5" height="18.0" fill="#f23645"/>
<rect x="1142.20" y="410.0" width="4.7" height="6.0" fill="#f23645"/>
<rect x="1148.69" y="413.2" width="1.5" height="10.8" fill="#0f9a82"/>
<rect x="1147.09" y="414.0" width="4.7" height="4.0" fill="#0f9a82"/>
<rect x="1153.58" y="412.0" width="1.5" height="7.8" fill="#f23645"/>
<rect x="1151.98" y="414.0" width="4.7" height="5.0" fill="#f23645"/>
<rect x="1158.47" y="403.2" width="1.5" height="16.8" fill="#0f9a82"/>
<rect x="1156.87" y="404.0" width="4.7" height="14.0" fill="#0f9a82"/>
<rect x="1163.37" y="398.0" width="1.5" height="7.8" fill="#0f9a82"/>
<rect x="1161.77" y="400.0" width="4.7" height="5.0" fill="#0f9a82"/>
<rect x="1168.26" y="402.2" width="1.5" height="10.6" fill="#f23645"/>
<rect x="1166.66" y="403.0" width="4.7" height="9.0" fill="#f23645"/>
<rect x="1173.15" y="408.0" width="1.5" height="6.8" fill="#f23645"/>
<rect x="1171.55" y="411.0" width="4.7" height="3.0" fill="#f23645"/>
<rect x="1178.04" y="405.2" width="1.5" height="7.6" fill="#0f9a82"/>
<rect x="1176.44" y="406.0" width="4.7" height="6.0" fill="#0f9a82"/>
<rect x="1182.93" y="399.0" width="1.5" height="9.8" fill="#0f9a82"/>
<rect x="1181.33" y="402.0" width="4.7" height="6.0" fill="#0f9a82"/>
<rect x="1187.82" y="401.2" width="1.5" height="4.6" fill="#f23645"/>
<rect x="1186.22" y="402.0" width="4.7" height="3.0" fill="#f23645"/>
<rect x="1192.72" y="400.0" width="1.5" height="12.0" fill="#f23645"/>
<rect x="1191.12" y="402.0" width="4.7" height="7.0" fill="#f23645"/>
<rect x="1197.61" y="400.0" width="1.5" height="7.8" fill="#0f9a82"/>
<rect x="1196.01" y="403.0" width="4.7" height="4.0" fill="#0f9a82"/>
<rect x="1202.50" y="401.2" width="1.5" height="4.8" fill="#0f9a82"/>
<rect x="1200.90" y="402.0" width="4.7" height="2.0" fill="#0f9a82"/>
<rect x="1207.39" y="399.2" width="1.5" height="3.6" fill="#0f9a82"/>
<rect x="1205.79" y="400.0" width="4.7" height="2.0" fill="#0f9a82"/>
<rect x="1212.28" y="390.0" width="1.5" height="10.8" fill="#0f9a82"/>
<rect x="1210.68" y="393.0" width="4.7" height="7.0" fill="#0f9a82"/>
<rect x="1217.17" y="384.0" width="1.5" height="12.8" fill="#0f9a82"/>
<rect x="1215.57" y="388.0" width="4.7" height="8.0" fill="#0f9a82"/>
<rect x="1222.07" y="387.2" width="1.5" height="5.6" fill="#0f9a82"/>
<rect x="1220.47" y="388.0" width="4.7" height="4.0" fill="#0f9a82"/>
<rect x="1226.96" y="387.2" width="1.5" height="8.8" fill="#f23645"/>
<rect x="1225.36" y="388.0" width="4.7" height="6.0" fill="#f23645"/>
<rect x="1231.85" y="386.2" width="1.5" height="8.6" fill="#0f9a82"/>
<rect x="1230.25" y="387.0" width="4.7" height="7.0" fill="#0f9a82"/>
<rect x="1236.74" y="384.0" width="1.5" height="12.0" fill="#f23645"/>
<rect x="1235.14" y="387.0" width="4.7" height="7.0" fill="#f23645"/>
<rect x="1241.63" y="387.2" width="1.5" height="6.6" fill="#0f9a82"/>
<rect x="1240.03" y="388.0" width="4.7" height="5.0" fill="#0f9a82"/>
<rect x="1246.52" y="386.0" width="1.5" height="3.8" fill="#0f9a82"/>
<rect x="1244.92" y="388.0" width="4.7" height="1.2" fill="#0f9a82"/>
<rect x="1251.42" y="385.0" width="1.5" height="6.0" fill="#0f9a82"/>
<rect x="1249.82" y="387.5" width="4.7" height="1.2" fill="#0f9a82"/>
<rect x="1256.31" y="384.0" width="1.5" height="13.8" fill="#f23645"/>
<rect x="1254.71" y="386.0" width="4.7" height="11.0" fill="#f23645"/>
<rect x="1261.20" y="389.2" width="1.5" height="10.8" fill="#0f9a82"/>
<rect x="1259.60" y="390.0" width="4.7" height="8.0" fill="#0f9a82"/>
<rect x="1266.09" y="390.2" width="1.5" height="9.6" fill="#f23645"/>
<rect x="1264.49" y="391.0" width="4.7" height="8.0" fill="#f23645"/>
<rect x="1270.98" y="394.2" width="1.5" height="5.6" fill="#f23645"/>
<rect x="1269.38" y="395.0" width="4.7" height="4.0" fill="#f23645"/>
<rect x="1275.87" y="392.0" width="1.5" height="7.0" fill="#0f9a82"/>
<rect x="1274.27" y="394.0" width="4.7" height="4.0" fill="#0f9a82"/>
<rect x="1280.77" y="393.2" width="1.5" height="8.8" fill="#0f9a82"/>
<rect x="1279.17" y="394.0" width="4.7" height="6.0" fill="#0f9a82"/>
<rect x="1285.66" y="393.2" width="1.5" height="4.6" fill="#f23645"/>
<rect x="1284.06" y="394.0" width="4.7" height="3.0" fill="#f23645"/>
<rect x="1290.55" y="395.2" width="1.5" height="8.8" fill="#f23645"/>
<rect x="1288.95" y="396.0" width="4.7" height="6.0" fill="#f23645"/>
<rect x="1295.44" y="400.2" width="1.5" height="9.6" fill="#f23645"/>
<rect x="1293.84" y="401.0" width="4.7" height="8.0" fill="#f23645"/>
<rect x="1300.33" y="401.2" width="1.5" height="8.6" fill="#0f9a82"/>
<rect x="1298.73" y="402.0" width="4.7" height="7.0" fill="#0f9a82"/>
<rect x="1305.22" y="399.2" width="1.5" height="7.8" fill="#0f9a82"/>
<rect x="1303.62" y="400.0" width="4.7" height="4.0" fill="#0f9a82"/>
<rect x="1310.12" y="397.2" width="1.5" height="5.6" fill="#0f9a82"/>
<rect x="1308.52" y="398.0" width="4.7" height="4.0" fill="#0f9a82"/>
<rect x="1315.01" y="395.2" width="1.5" height="3.6" fill="#0f9a82"/>
<rect x="1313.41" y="396.0" width="4.7" height="2.0" fill="#0f9a82"/>
<rect x="1319.90" y="392.0" width="1.5" height="6.0" fill="#0f9a82"/>
<rect x="1318.30" y="394.0" width="4.7" height="2.0" fill="#0f9a82"/>
<rect x="1324.79" y="392.0" width="1.5" height="7.8" fill="#f23645"/>
<rect x="1323.19" y="394.0" width="4.7" height="5.0" fill="#f23645"/>
<rect x="1329.68" y="394.0" width="1.5" height="12.0" fill="#f23645"/>
<rect x="1328.08" y="396.0" width="4.7" height="8.0" fill="#f23645"/>
<rect x="1334.58" y="400.2" width="1.5" height="9.6" fill="#f23645"/>
<rect x="1332.98" y="401.0" width="4.7" height="8.0" fill="#f23645"/>
<rect x="1339.47" y="407.2" width="1.5" height="14.6" fill="#f23645"/>
<rect x="1337.87" y="408.0" width="4.7" height="13.0" fill="#f23645"/>
<rect x="1344.36" y="419.2" width="1.5" height="4.6" fill="#f23645"/>
<rect x="1342.76" y="420.0" width="4.7" height="3.0" fill="#f23645"/>
<rect x="1349.25" y="417.2" width="1.5" height="8.8" fill="#0f9a82"/>
<rect x="1347.65" y="418.0" width="4.7" height="6.0" fill="#0f9a82"/>
<rect x="1354.14" y="414.2" width="1.5" height="4.6" fill="#0f9a82"/>
<rect x="1352.54" y="415.0" width="4.7" height="3.0" fill="#0f9a82"/>
<rect x="1359.03" y="414.2" width="1.5" height="7.8" fill="#f23645"/>
<rect x="1357.43" y="415.0" width="4.7" height="5.0" fill="#f23645"/>
<rect x="1363.93" y="411.2" width="1.5" height="9.6" fill="#0f9a82"/>
<rect x="1362.33" y="412.0" width="4.7" height="8.0" fill="#0f9a82"/>
<rect x="1368.82" y="405.0" width="1.5" height="9.8" fill="#0f9a82"/>
<rect x="1367.22" y="407.0" width="4.7" height="7.0" fill="#0f9a82"/>
<rect x="1373.71" y="406.2" width="1.5" height="9.6" fill="#f23645"/>
<rect x="1372.11" y="407.0" width="4.7" height="8.0" fill="#f23645"/>
<rect x="1378.60" y="406.2" width="1.5" height="12.8" fill="#0f9a82"/>
<rect x="1377.00" y="407.0" width="4.7" height="8.0" fill="#0f9a82"/>
<rect x="1383.49" y="404.0" width="1.5" height="9.8" fill="#f23645"/>
<rect x="1381.89" y="406.0" width="4.7" height="7.0" fill="#f23645"/>
<rect x="1388.38" y="410.2" width="1.5" height="4.1" fill="#f23645"/>
<rect x="1386.78" y="411.0" width="4.7" height="2.5" fill="#f23645"/>
<rect x="1393.28" y="402.0" width="1.5" height="11.8" fill="#0f9a82"/>
<rect x="1391.68" y="405.0" width="4.7" height="8.0" fill="#0f9a82"/>
<rect x="1398.17" y="402.2" width="1.5" height="3.6" fill="#0f9a82"/>
<rect x="1396.57" y="403.0" width="4.7" height="2.0" fill="#0f9a82"/>
<rect x="1403.06" y="400.2" width="1.5" height="11.8" fill="#0f9a82"/>
<rect x="1401.46" y="401.0" width="4.7" height="3.0" fill="#0f9a82"/>
<rect x="1407.95" y="394.0" width="1.5" height="9.8" fill="#0f9a82"/>
<rect x="1406.35" y="398.0" width="4.7" height="5.0" fill="#0f9a82"/>
<rect x="1412.84" y="399.2" width="1.5" height="8.8" fill="#f23645"/>
<rect x="1411.24" y="400.0" width="4.7" height="5.0" fill="#f23645"/>
<rect x="1417.73" y="396.0" width="1.5" height="10.8" fill="#0f9a82"/>
<rect x="1416.13" y="399.0" width="4.7" height="7.0" fill="#0f9a82"/>
<rect x="1422.63" y="399.2" width="1.5" height="10.6" fill="#f23645"/>
<rect x="1421.03" y="400.0" width="4.7" height="9.0" fill="#f23645"/>
<rect x="1427.52" y="399.2" width="1.5" height="10.6" fill="#0f9a82"/>
<rect x="1425.92" y="400.0" width="4.7" height="9.0" fill="#0f9a82"/>
<rect x="1432.41" y="397.0" width="1.5" height="8.8" fill="#f23645"/>
<rect x="1430.81" y="399.0" width="4.7" height="6.0" fill="#f23645"/>
<rect x="1437.30" y="399.2" width="1.5" height="11.8" fill="#0f9a82"/>
<rect x="1435.70" y="400.0" width="4.7" height="8.0" fill="#0f9a82"/>
<rect x="1442.19" y="399.2" width="1.5" height="11.6" fill="#f23645"/>
<rect x="1440.59" y="400.0" width="4.7" height="10.0" fill="#f23645"/>
<rect x="1447.08" y="400.0" width="1.5" height="10.8" fill="#0f9a82"/>
<rect x="1445.48" y="403.0" width="4.7" height="7.0" fill="#0f9a82"/>
<rect x="1451.98" y="405.2" width="1.5" height="13.6" fill="#f23645"/>
<rect x="1450.38" y="406.0" width="4.7" height="12.0" fill="#f23645"/>
<rect x="1456.87" y="412.2" width="1.5" height="12.8" fill="#0f9a82"/>
<rect x="1455.27" y="413.0" width="4.7" height="7.0" fill="#0f9a82"/>
<rect x="1461.76" y="402.0" width="1.5" height="26.8" fill="#f23645"/>
<rect x="1460.16" y="413.0" width="4.7" height="15.0" fill="#f23645"/>
<rect x="1466.65" y="426.2" width="1.5" height="15.8" fill="#f23645"/>
<rect x="1465.05" y="427.0" width="4.7" height="7.0" fill="#f23645"/>
<rect x="1471.54" y="431.2" width="1.5" height="13.6" fill="#f23645"/>
<rect x="1469.94" y="432.0" width="4.7" height="12.0" fill="#f23645"/>
<rect x="1476.43" y="443.2" width="1.5" height="30.8" fill="#f23645"/>
<rect x="1474.83" y="444.0" width="4.7" height="17.0" fill="#f23645"/>
<rect x="1481.33" y="454.2" width="1.5" height="13.8" fill="#f23645"/>
<rect x="1479.73" y="455.0" width="4.7" height="11.0" fill="#f23645"/>
<rect x="1486.22" y="461.2" width="1.5" height="26.8" fill="#f23645"/>
<rect x="1484.62" y="462.0" width="4.7" height="18.0" fill="#f23645"/>
<rect x="1491.11" y="472.0" width="1.5" height="23.8" fill="#f23645"/>
<rect x="1489.51" y="478.0" width="4.7" height="17.0" fill="#f23645"/>
<rect x="1496.00" y="493.2" width="1.5" height="18.8" fill="#f23645"/>
<rect x="1494.40" y="494.0" width="4.7" height="9.0" fill="#f23645"/>
<rect x="1500.89" y="501.2" width="1.5" height="21.8" fill="#f23645"/>
<rect x="1499.29" y="502.0" width="4.7" height="18.0" fill="#f23645"/>
<rect x="1505.78" y="487.0" width="1.5" height="33.8" fill="#0f9a82"/>
<rect x="1504.18" y="490.0" width="4.7" height="30.0" fill="#0f9a82"/>
<rect x="1510.68" y="484.2" width="1.5" height="9.6" fill="#0f9a82"/>
<rect x="1509.08" y="485.0" width="4.7" height="8.0" fill="#0f9a82"/>
<rect x="1515.57" y="478.0" width="1.5" height="23.0" fill="#f23645"/>
<rect x="1513.97" y="486.0" width="4.7" height="11.0" fill="#f23645"/>
<rect x="1520.46" y="474.0" width="1.5" height="23.8" fill="#0f9a82"/>
<rect x="1518.86" y="478.0" width="4.7" height="19.0" fill="#0f9a82"/>
<rect x="1525.35" y="474.0" width="1.5" height="16.0" fill="#f23645"/>
<rect x="1523.75" y="479.0" width="4.7" height="7.0" fill="#f23645"/>
<rect x="1530.24" y="470.0" width="1.5" height="15.8" fill="#0f9a82"/>
<rect x="1528.64" y="479.0" width="4.7" height="6.0" fill="#0f9a82"/>
<rect x="1535.13" y="471.0" width="1.5" height="12.8" fill="#f23645"/>
<rect x="1533.53" y="479.0" width="4.7" height="4.0" fill="#f23645"/>
<rect x="1540.03" y="462.0" width="1.5" height="21.8" fill="#0f9a82"/>
<rect x="1538.43" y="466.0" width="4.7" height="17.0" fill="#0f9a82"/>
<rect x="1544.92" y="458.2" width="1.5" height="9.6" fill="#0f9a82"/>
<rect x="1543.32" y="459.0" width="4.7" height="8.0" fill="#0f9a82"/>
<rect x="1549.81" y="443.0" width="1.5" height="17.8" fill="#0f9a82"/>
<rect x="1548.21" y="445.0" width="4.7" height="15.0" fill="#0f9a82"/>
<rect x="1554.70" y="441.0" width="1.5" height="5.8" fill="#0f9a82"/>
<rect x="1553.10" y="444.0" width="4.7" height="2.0" fill="#0f9a82"/>
<rect x="1559.59" y="443.2" width="1.5" height="19.6" fill="#f23645"/>
<rect x="1557.99" y="444.0" width="4.7" height="18.0" fill="#f23645"/>
<rect x="1564.48" y="455.2" width="1.5" height="10.8" fill="#f23645"/>
<rect x="1562.88" y="456.0" width="4.7" height="8.0" fill="#f23645"/>
<rect x="1569.38" y="455.0" width="1.5" height="16.0" fill="#f23645"/>
<rect x="1567.78" y="460.0" width="4.7" height="8.0" fill="#f23645"/>
<rect x="1574.27" y="462.2" width="1.5" height="11.8" fill="#0f9a82"/>
<rect x="1572.67" y="463.0" width="4.7" height="5.0" fill="#0f9a82"/>
<rect x="1579.16" y="452.0" width="1.5" height="15.8" fill="#f23645"/>
<rect x="1577.56" y="463.0" width="4.7" height="4.0" fill="#f23645"/>
<rect x="1584.05" y="458.0" width="1.5" height="9.8" fill="#0f9a82"/>
<rect x="1582.45" y="462.0" width="4.7" height="5.0" fill="#0f9a82"/>
<rect x="1588.94" y="444.2" width="1.5" height="20.6" fill="#0f9a82"/>
<rect x="1587.34" y="445.0" width="4.7" height="19.0" fill="#0f9a82"/>
<rect x="1593.84" y="441.2" width="1.5" height="9.6" fill="#0f9a82"/>
<rect x="1592.24" y="442.0" width="4.7" height="8.0" fill="#0f9a82"/>
<rect x="1598.73" y="434.0" width="1.5" height="10.8" fill="#0f9a82"/>
<rect x="1597.13" y="437.0" width="4.7" height="7.0" fill="#0f9a82"/>
<rect x="1603.62" y="438.2" width="1.5" height="7.8" fill="#f23645"/>
<rect x="1602.02" y="439.0" width="4.7" height="2.0" fill="#f23645"/>
<rect x="1608.51" y="439.2" width="1.5" height="15.8" fill="#f23645"/>
<rect x="1606.91" y="440.0" width="4.7" height="5.0" fill="#f23645"/>
<rect x="1613.40" y="438.0" width="1.5" height="6.8" fill="#0f9a82"/>
<rect x="1611.80" y="441.0" width="4.7" height="3.0" fill="#0f9a82"/>
<rect x="1618.29" y="441.2" width="1.5" height="4.6" fill="#f23645"/>
<rect x="1616.69" y="442.0" width="4.7" height="3.0" fill="#f23645"/>
<rect x="1623.19" y="425.0" width="1.5" height="20.8" fill="#0f9a82"/>
<rect x="1621.59" y="428.0" width="4.7" height="17.0" fill="#0f9a82"/>
<rect x="1628.08" y="420.0" width="1.5" height="12.8" fill="#f23645"/>
<rect x="1626.48" y="425.0" width="4.7" height="7.0" fill="#f23645"/>
<rect x="1632.97" y="426.2" width="1.5" height="5.6" fill="#0f9a82"/>
<rect x="1631.37" y="427.0" width="4.7" height="4.0" fill="#0f9a82"/>
<rect x="1637.86" y="410.0" width="1.5" height="20.8" fill="#0f9a82"/>
<rect x="1636.26" y="425.0" width="4.7" height="5.0" fill="#0f9a82"/>
<rect x="1642.75" y="421.2" width="1.5" height="11.6" fill="#f23645"/>
<rect x="1641.15" y="422.0" width="4.7" height="10.0" fill="#f23645"/>
<rect x="1647.64" y="430.2" width="1.5" height="10.8" fill="#f23645"/>
<rect x="1646.04" y="431.0" width="4.7" height="6.0" fill="#f23645"/>
<rect x="1652.54" y="424.0" width="1.5" height="13.8" fill="#0f9a82"/>
<rect x="1650.94" y="435.0" width="4.7" height="2.0" fill="#0f9a82"/>
<rect x="1657.43" y="427.0" width="1.5" height="8.8" fill="#0f9a82"/>
<rect x="1655.83" y="432.0" width="4.7" height="3.0" fill="#0f9a82"/>
<rect x="1662.32" y="426.2" width="1.5" height="8.6" fill="#0f9a82"/>
<rect x="1660.72" y="427.0" width="4.7" height="7.0" fill="#0f9a82"/>
<rect x="1667.21" y="419.0" width="1.5" height="8.8" fill="#0f9a82"/>
<rect x="1665.61" y="423.0" width="4.7" height="4.0" fill="#0f9a82"/>
<rect x="1672.10" y="418.0" width="1.5" height="10.8" fill="#f23645"/>
<rect x="1670.50" y="423.0" width="4.7" height="5.0" fill="#f23645"/>
<rect x="1676.99" y="424.2" width="1.5" height="4.6" fill="#0f9a82"/>
<rect x="1675.39" y="425.0" width="4.7" height="3.0" fill="#0f9a82"/>
<rect x="1681.89" y="425.2" width="1.5" height="13.8" fill="#f23645"/>
<rect x="1680.29" y="426.0" width="4.7" height="11.0" fill="#f23645"/>
</g>
<line x1="0" y1="183.8" x2="1629" y2="183.8" stroke="#a9abb3" stroke-width="2" stroke-dasharray="2 3.3"/>
<line x1="0" y1="870.2" x2="1636" y2="870.2" stroke="#a9abb3" stroke-width="2" stroke-dasharray="2 3.3"/>
<rect x="0" y="949" width="1797" height="139" fill="#000"/>
<rect x="111.4" y="949" width="2" height="139" fill="rgba(205,208,220,0.27)"/>
<rect x="287.5" y="949" width="2" height="139" fill="rgba(205,208,220,0.27)"/>
<rect x="463.6" y="949" width="2" height="139" fill="rgba(205,208,220,0.27)"/>
<rect x="639.7" y="949" width="2" height="139" fill="rgba(205,208,220,0.27)"/>
<rect x="815.8" y="949" width="2" height="139" fill="rgba(205,208,220,0.27)"/>
<rect x="991.9" y="949" width="2" height="139" fill="rgba(205,208,220,0.27)"/>
<rect x="1168.0" y="949" width="2" height="139" fill="rgba(205,208,220,0.27)"/>
<rect x="1344.1" y="949" width="2" height="139" fill="rgba(205,208,220,0.27)"/>
<rect x="1520.2" y="949" width="2" height="139" fill="rgba(205,208,220,0.27)"/>
<rect x="0" y="1050.2" width="1690.9" height="2" fill="rgba(205,208,220,0.27)"/>
<g id="hist">
<rect x="-1.46" y="976.8" width="2.7" height="1.6" fill="#26a69a"/>
<rect x="3.43" y="977.7" width="2.7" height="0.7" fill="#b2dfdb"/>
<rect x="8.32" y="978.4" width="2.7" height="0.6" fill="#ff5252"/>
<rect x="13.22" y="978.4" width="2.7" height="1.2" fill="#ff5252"/>
<rect x="18.11" y="978.4" width="2.7" height="2.3" fill="#ff5252"/>
<rect x="23.00" y="978.4" width="2.7" height="3.5" fill="#ff5252"/>
<rect x="27.89" y="978.4" width="2.7" height="4.7" fill="#ff5252"/>
<rect x="32.78" y="978.4" width="2.7" height="4.8" fill="#ff5252"/>
<rect x="37.67" y="978.4" width="2.7" height="4.8" fill="#ffcdd2"/>
<rect x="42.57" y="978.4" width="2.7" height="4.7" fill="#ffcdd2"/>
<rect x="47.46" y="978.4" width="2.7" height="4.4" fill="#ffcdd2"/>
<rect x="52.35" y="978.4" width="2.7" height="4.1" fill="#ffcdd2"/>
<rect x="57.24" y="978.4" width="2.7" height="3.7" fill="#ffcdd2"/>
<rect x="62.13" y="978.4" width="2.7" height="2.8" fill="#ffcdd2"/>
<rect x="67.02" y="978.4" width="2.7" height="1.6" fill="#ffcdd2"/>
<rect x="71.92" y="978.4" width="2.7" height="0.6" fill="#ffcdd2"/>
<rect x="76.81" y="977.8" width="2.7" height="0.6" fill="#26a69a"/>
<rect x="81.70" y="977.1" width="2.7" height="1.3" fill="#26a69a"/>
<rect x="86.59" y="976.4" width="2.7" height="2.0" fill="#26a69a"/>
<rect x="91.48" y="976.1" width="2.7" height="2.3" fill="#26a69a"/>
<rect x="96.37" y="976.1" width="2.7" height="2.3" fill="#26a69a"/>
<rect x="101.27" y="976.1" width="2.7" height="2.3" fill="#26a69a"/>
<rect x="106.16" y="975.8" width="2.7" height="2.6" fill="#26a69a"/>
<rect x="111.05" y="975.4" width="2.7" height="3.0" fill="#26a69a"/>
<rect x="115.94" y="975.0" width="2.7" height="3.4" fill="#26a69a"/>
<rect x="120.83" y="974.5" width="2.7" height="3.9" fill="#26a69a"/>
<rect x="125.73" y="973.9" width="2.7" height="4.5" fill="#26a69a"/>
<rect x="130.62" y="973.3" width="2.7" height="5.1" fill="#26a69a"/>
<rect x="135.51" y="973.0" width="2.7" height="5.4" fill="#26a69a"/>
<rect x="140.40" y="973.2" width="2.7" height="5.2" fill="#b2dfdb"/>
<rect x="145.29" y="973.5" width="2.7" height="4.9" fill="#b2dfdb"/>
<rect x="150.18" y="973.7" width="2.7" height="4.7" fill="#b2dfdb"/>
<rect x="155.08" y="974.0" width="2.7" height="4.4" fill="#b2dfdb"/>
<rect x="159.97" y="974.3" width="2.7" height="4.1" fill="#b2dfdb"/>
<rect x="164.86" y="974.6" width="2.7" height="3.8" fill="#b2dfdb"/>
<rect x="169.75" y="974.9" width="2.7" height="3.5" fill="#b2dfdb"/>
<rect x="174.64" y="975.4" width="2.7" height="3.0" fill="#b2dfdb"/>
<rect x="179.53" y="975.8" width="2.7" height="2.6" fill="#b2dfdb"/>
<rect x="184.43" y="976.3" width="2.7" height="2.1" fill="#b2dfdb"/>
<rect x="189.32" y="976.7" width="2.7" height="1.7" fill="#b2dfdb"/>
<rect x="194.21" y="976.8" width="2.7" height="1.6" fill="#b2dfdb"/>
<rect x="199.10" y="977.0" width="2.7" height="1.4" fill="#b2dfdb"/>
<rect x="203.99" y="977.1" width="2.7" height="1.3" fill="#b2dfdb"/>
<rect x="208.88" y="977.2" width="2.7" height="1.2" fill="#b2dfdb"/>
<rect x="213.78" y="977.5" width="2.7" height="0.9" fill="#b2dfdb"/>
<rect x="218.67" y="977.7" width="2.7" height="0.7" fill="#b2dfdb"/>
<rect x="223.56" y="977.8" width="2.7" height="0.6" fill="#b2dfdb"/>
<rect x="228.45" y="977.8" width="2.7" height="0.6" fill="#26a69a"/>
<rect x="233.34" y="977.8" width="2.7" height="0.6" fill="#26a69a"/>
<rect x="238.23" y="978.4" width="2.7" height="0.6" fill="#ff5252"/>
<rect x="243.13" y="978.4" width="2.7" height="0.6" fill="#ff5252"/>
<rect x="248.02" y="978.4" width="2.7" height="0.6" fill="#ff5252"/>
<rect x="252.91" y="978.4" width="2.7" height="0.6" fill="#ff5252"/>
<rect x="257.80" y="977.8" width="2.7" height="0.6" fill="#26a69a"/>
<rect x="262.69" y="977.8" width="2.7" height="0.6" fill="#26a69a"/>
<rect x="267.58" y="977.8" width="2.7" height="0.6" fill="#26a69a"/>
<rect x="272.48" y="977.8" width="2.7" height="0.6" fill="#26a69a"/>
<rect x="277.37" y="977.8" width="2.7" height="0.6" fill="#26a69a"/>
<rect x="282.26" y="977.8" width="2.7" height="0.6" fill="#26a69a"/>
<rect x="287.15" y="977.8" width="2.7" height="0.6" fill="#26a69a"/>
<rect x="292.04" y="977.8" width="2.7" height="0.6" fill="#26a69a"/>
<rect x="296.93" y="977.7" width="2.7" height="0.7" fill="#26a69a"/>
<rect x="301.83" y="977.7" width="2.7" height="0.7" fill="#26a69a"/>
<rect x="306.72" y="977.7" width="2.7" height="0.7" fill="#26a69a"/>
<rect x="311.61" y="977.7" width="2.7" height="0.7" fill="#b2dfdb"/>
<rect x="316.50" y="977.8" width="2.7" height="0.6" fill="#b2dfdb"/>
<rect x="321.39" y="977.8" width="2.7" height="0.6" fill="#b2dfdb"/>
<rect x="326.28" y="977.8" width="2.7" height="0.6" fill="#26a69a"/>
<rect x="331.18" y="977.8" width="2.7" height="0.6" fill="#26a69a"/>
<rect x="336.07" y="977.8" width="2.7" height="0.6" fill="#26a69a"/>
<rect x="340.96" y="977.8" width="2.7" height="0.6" fill="#26a69a"/>
<rect x="345.85" y="977.8" width="2.7" height="0.6" fill="#26a69a"/>
<rect x="350.74" y="978.4" width="2.7" height="0.6" fill="#ff5252"/>
<rect x="355.63" y="978.4" width="2.7" height="1.8" fill="#ff5252"/>
<rect x="360.53" y="978.4" width="2.7" height="2.3" fill="#ff5252"/>
<rect x="365.42" y="978.4" width="2.7" height="2.8" fill="#ff5252"/>
<rect x="370.31" y="978.4" width="2.7" height="3.3" fill="#ff5252"/>
<rect x="375.20" y="978.4" width="2.7" height="3.6" fill="#ff5252"/>
<rect x="380.09" y="978.4" width="2.7" height="3.7" fill="#ff5252"/>
<rect x="384.99" y="978.4" width="2.7" height="4.1" fill="#ff5252"/>
<rect x="389.88" y="978.4" width="2.7" height="4.0" fill="#ffcdd2"/>
<rect x="394.77" y="978.4" width="2.7" height="3.7" fill="#ffcdd2"/>
<rect x="399.66" y="978.4" width="2.7" height="4.2" fill="#ff5252"/>
<rect x="404.55" y="978.4" width="2.7" height="4.5" fill="#ff5252"/>
<rect x="409.44" y="978.4" width="2.7" height="3.9" fill="#ffcdd2"/>
<rect x="414.34" y="978.4" width="2.7" height="3.0" fill="#ffcdd2"/>
<rect x="419.23" y="978.4" width="2.7" height="2.5" fill="#ffcdd2"/>
<rect x="424.12" y="978.4" width="2.7" height="2.1" fill="#ffcdd2"/>
<rect x="429.01" y="978.4" width="2.7" height="1.6" fill="#ffcdd2"/>
<rect x="433.90" y="978.4" width="2.7" height="1.6" fill="#ff5252"/>
<rect x="438.79" y="978.4" width="2.7" height="1.6" fill="#ff5252"/>
<rect x="443.69" y="978.4" width="2.7" height="2.1" fill="#ff5252"/>
<rect x="448.58" y="978.4" width="2.7" height="2.1" fill="#ff5252"/>
<rect x="453.47" y="978.4" width="2.7" height="2.6" fill="#ff5252"/>
<rect x="458.36" y="978.4" width="2.7" height="2.6" fill="#ff5252"/>
<rect x="463.25" y="977.5" width="2.7" height="0.9" fill="#26a69a"/>
<rect x="468.14" y="975.0" width="2.7" height="3.4" fill="#26a69a"/>
<rect x="473.04" y="978.4" width="2.7" height="18.3" fill="#ff5252"/>
<rect x="477.93" y="978.4" width="2.7" height="37.7" fill="#ff5252"/>
<rect x="482.82" y="978.4" width="2.7" height="43.8" fill="#ff5252"/>
<rect x="487.71" y="978.4" width="2.7" height="41.6" fill="#ffcdd2"/>
<rect x="492.60" y="978.4" width="2.7" height="38.6" fill="#ffcdd2"/>
<rect x="497.49" y="978.4" width="2.7" height="36.7" fill="#ffcdd2"/>
<rect x="502.39" y="978.4" width="2.7" height="34.7" fill="#ffcdd2"/>
<rect x="507.28" y="978.4" width="2.7" height="31.1" fill="#ffcdd2"/>
<rect x="512.17" y="978.4" width="2.7" height="27.1" fill="#ffcdd2"/>
<rect x="517.06" y="978.4" width="2.7" height="22.1" fill="#ffcdd2"/>
<rect x="521.95" y="978.4" width="2.7" height="16.2" fill="#ffcdd2"/>
<rect x="526.84" y="978.4" width="2.7" height="9.4" fill="#ffcdd2"/>
<rect x="531.74" y="978.4" width="2.7" height="4.5" fill="#ffcdd2"/>
<rect x="536.63" y="976.0" width="2.7" height="2.4" fill="#26a69a"/>
<rect x="541.52" y="970.8" width="2.7" height="7.6" fill="#26a69a"/>
<rect x="546.41" y="966.7" width="2.7" height="11.7" fill="#26a69a"/>
<rect x="551.30" y="965.1" width="2.7" height="13.3" fill="#26a69a"/>
<rect x="556.19" y="966.0" width="2.7" height="12.4" fill="#b2dfdb"/>
<rect x="561.09" y="966.0" width="2.7" height="12.4" fill="#26a69a"/>
<rect x="565.98" y="965.9" width="2.7" height="12.5" fill="#26a69a"/>
<rect x="570.87" y="964.5" width="2.7" height="13.9" fill="#26a69a"/>
<rect x="575.76" y="965.0" width="2.7" height="13.4" fill="#b2dfdb"/>
<rect x="580.65" y="966.5" width="2.7" height="11.9" fill="#b2dfdb"/>
<rect x="585.54" y="968.9" width="2.7" height="9.5" fill="#b2dfdb"/>
<rect x="590.44" y="973.8" width="2.7" height="4.6" fill="#b2dfdb"/>
<rect x="595.33" y="975.4" width="2.7" height="3.0" fill="#b2dfdb"/>
<rect x="600.22" y="976.0" width="2.7" height="2.4" fill="#b2dfdb"/>
<rect x="605.11" y="975.1" width="2.7" height="3.3" fill="#26a69a"/>
<rect x="610.00" y="973.9" width="2.7" height="4.5" fill="#26a69a"/>
<rect x="614.90" y="973.0" width="2.7" height="5.4" fill="#26a69a"/>
<rect x="619.79" y="972.0" width="2.7" height="6.4" fill="#26a69a"/>
<rect x="624.68" y="971.5" width="2.7" height="6.9" fill="#26a69a"/>
<rect x="629.57" y="970.0" width="2.7" height="8.4" fill="#26a69a"/>
<rect x="634.46" y="969.5" width="2.7" height="8.9" fill="#26a69a"/>
<rect x="639.35" y="970.4" width="2.7" height="8.0" fill="#b2dfdb"/>
<rect x="644.25" y="972.1" width="2.7" height="6.3" fill="#b2dfdb"/>
<rect x="649.14" y="973.2" width="2.7" height="5.2" fill="#b2dfdb"/>
<rect x="654.03" y="975.1" width="2.7" height="3.3" fill="#b2dfdb"/>
<rect x="658.92" y="976.5" width="2.7" height="1.9" fill="#b2dfdb"/>
<rect x="663.81" y="977.0" width="2.7" height="1.4" fill="#b2dfdb"/>
<rect x="668.70" y="977.2" width="2.7" height="1.2" fill="#b2dfdb"/>
<rect x="673.60" y="977.1" width="2.7" height="1.3" fill="#26a69a"/>
<rect x="678.49" y="977.0" width="2.7" height="1.4" fill="#26a69a"/>
<rect x="683.38" y="977.2" width="2.7" height="1.2" fill="#b2dfdb"/>
<rect x="688.27" y="977.4" width="2.7" height="1.0" fill="#b2dfdb"/>
<rect x="693.16" y="977.1" width="2.7" height="1.3" fill="#26a69a"/>
<rect x="698.05" y="976.8" width="2.7" height="1.6" fill="#26a69a"/>
<rect x="702.95" y="976.7" width="2.7" height="1.7" fill="#26a69a"/>
<rect x="707.84" y="976.5" width="2.7" height="1.9" fill="#26a69a"/>
<rect x="712.73" y="976.7" width="2.7" height="1.7" fill="#b2dfdb"/>
<rect x="717.62" y="976.9" width="2.7" height="1.5" fill="#b2dfdb"/>
<rect x="722.51" y="977.2" width="2.7" height="1.2" fill="#b2dfdb"/>
<rect x="727.40" y="977.5" width="2.7" height="0.9" fill="#b2dfdb"/>
<rect x="732.30" y="977.8" width="2.7" height="0.6" fill="#b2dfdb"/>
<rect x="737.19" y="978.4" width="2.7" height="1.1" fill="#ff5252"/>
<rect x="742.08" y="978.4" width="2.7" height="2.3" fill="#ff5252"/>
<rect x="746.97" y="978.4" width="2.7" height="2.9" fill="#ff5252"/>
<rect x="751.86" y="978.4" width="2.7" height="2.1" fill="#ffcdd2"/>
<rect x="756.75" y="977.8" width="2.7" height="0.6" fill="#26a69a"/>
<rect x="761.65" y="977.5" width="2.7" height="0.9" fill="#26a69a"/>
<rect x="766.54" y="978.4" width="2.7" height="1.4" fill="#ff5252"/>
<rect x="771.43" y="978.4" width="2.7" height="2.7" fill="#ff5252"/>
<rect x="776.32" y="978.4" width="2.7" height="3.6" fill="#ff5252"/>
<rect x="781.21" y="978.4" width="2.7" height="4.6" fill="#ff5252"/>
<rect x="786.10" y="978.4" width="2.7" height="4.6" fill="#ffcdd2"/>
<rect x="791.00" y="978.4" width="2.7" height="3.9" fill="#ffcdd2"/>
<rect x="795.89" y="978.4" width="2.7" height="3.2" fill="#ffcdd2"/>
<rect x="800.78" y="978.4" width="2.7" height="2.4" fill="#ffcdd2"/>
<rect x="805.67" y="978.4" width="2.7" height="1.9" fill="#ffcdd2"/>
<rect x="810.56" y="978.4" width="2.7" height="1.4" fill="#ffcdd2"/>
<rect x="815.45" y="978.4" width="2.7" height="0.6" fill="#ffcdd2"/>
<rect x="820.35" y="977.8" width="2.7" height="0.6" fill="#26a69a"/>
<rect x="825.24" y="977.3" width="2.7" height="1.1" fill="#26a69a"/>
<rect x="830.13" y="976.7" width="2.7" height="1.7" fill="#26a69a"/>
<rect x="835.02" y="975.9" width="2.7" height="2.5" fill="#26a69a"/>
<rect x="839.91" y="975.1" width="2.7" height="3.3" fill="#26a69a"/>
<rect x="844.80" y="973.7" width="2.7" height="4.7" fill="#26a69a"/>
<rect x="849.70" y="972.2" width="2.7" height="6.2" fill="#26a69a"/>
<rect x="854.59" y="970.6" width="2.7" height="7.8" fill="#26a69a"/>
<rect x="859.48" y="968.7" width="2.7" height="9.7" fill="#26a69a"/>
<rect x="864.37" y="966.9" width="2.7" height="11.5" fill="#26a69a"/>
<rect x="869.26" y="966.6" width="2.7" height="11.8" fill="#26a69a"/>
<rect x="874.16" y="967.6" width="2.7" height="10.8" fill="#b2dfdb"/>
<rect x="879.05" y="968.6" width="2.7" height="9.8" fill="#b2dfdb"/>
<rect x="883.94" y="969.5" width="2.7" height="8.9" fill="#b2dfdb"/>
<rect x="888.83" y="970.1" width="2.7" height="8.3" fill="#b2dfdb"/>
<rect x="893.72" y="971.5" width="2.7" height="6.9" fill="#b2dfdb"/>
<rect x="898.61" y="972.0" width="2.7" height="6.4" fill="#b2dfdb"/>
<rect x="903.51" y="973.5" width="2.7" height="4.9" fill="#b2dfdb"/>
<rect x="908.40" y="974.4" width="2.7" height="4.0" fill="#b2dfdb"/>
<rect x="913.29" y="975.0" width="2.7" height="3.4" fill="#b2dfdb"/>
<rect x="918.18" y="975.5" width="2.7" height="2.9" fill="#b2dfdb"/>
<rect x="923.07" y="975.9" width="2.7" height="2.5" fill="#b2dfdb"/>
<rect x="927.96" y="976.4" width="2.7" height="2.0" fill="#b2dfdb"/>
<rect x="932.86" y="976.9" width="2.7" height="1.5" fill="#b2dfdb"/>
<rect x="937.75" y="978.4" width="2.7" height="0.6" fill="#ff5252"/>
<rect x="942.64" y="978.4" width="2.7" height="1.8" fill="#ff5252"/>
<rect x="947.53" y="978.4" width="2.7" height="2.9" fill="#ff5252"/>
<rect x="952.42" y="978.4" width="2.7" height="3.5" fill="#ff5252"/>
<rect x="957.31" y="978.4" width="2.7" height="3.6" fill="#ff5252"/>
<rect x="962.21" y="978.4" width="2.7" height="3.2" fill="#ffcdd2"/>
<rect x="967.10" y="978.4" width="2.7" height="2.8" fill="#ffcdd2"/>
<rect x="971.99" y="978.4" width="2.7" height="2.3" fill="#ffcdd2"/>
<rect x="976.88" y="978.4" width="2.7" height="1.8" fill="#ffcdd2"/>
<rect x="981.77" y="978.4" width="2.7" height="1.1" fill="#ffcdd2"/>
<rect x="986.66" y="977.8" width="2.7" height="0.6" fill="#26a69a"/>
<rect x="991.56" y="977.7" width="2.7" height="0.7" fill="#26a69a"/>
<rect x="996.45" y="977.6" width="2.7" height="0.8" fill="#26a69a"/>
<rect x="1001.34" y="977.7" width="2.7" height="0.7" fill="#b2dfdb"/>
<rect x="1006.23" y="977.8" width="2.7" height="0.6" fill="#b2dfdb"/>
<rect x="1011.12" y="977.8" width="2.7" height="0.6" fill="#b2dfdb"/>
<rect x="1016.01" y="978.4" width="2.7" height="0.6" fill="#ff5252"/>
<rect x="1020.91" y="978.4" width="2.7" height="0.6" fill="#ff5252"/>
<rect x="1025.80" y="978.4" width="2.7" height="0.6" fill="#ff5252"/>
<rect x="1030.69" y="978.4" width="2.7" height="0.6" fill="#ff5252"/>
<rect x="1035.58" y="977.8" width="2.7" height="0.6" fill="#26a69a"/>
<rect x="1040.47" y="977.3" width="2.7" height="1.1" fill="#26a69a"/>
<rect x="1045.36" y="977.1" width="2.7" height="1.3" fill="#26a69a"/>
<rect x="1050.26" y="977.0" width="2.7" height="1.4" fill="#26a69a"/>
<rect x="1055.15" y="977.2" width="2.7" height="1.2" fill="#b2dfdb"/>
<rect x="1060.04" y="978.4" width="2.7" height="0.6" fill="#ff5252"/>
<rect x="1064.93" y="978.4" width="2.7" height="1.7" fill="#ff5252"/>
<rect x="1069.82" y="978.4" width="2.7" height="2.2" fill="#ff5252"/>
<rect x="1074.71" y="978.4" width="2.7" height="2.7" fill="#ff5252"/>
<rect x="1079.61" y="978.4" width="2.7" height="3.2" fill="#ff5252"/>
<rect x="1084.50" y="978.4" width="2.7" height="3.9" fill="#ff5252"/>
<rect x="1089.39" y="978.4" width="2.7" height="5.2" fill="#ff5252"/>
<rect x="1094.28" y="978.4" width="2.7" height="5.8" fill="#ff5252"/>
<rect x="1099.17" y="978.4" width="2.7" height="3.5" fill="#ffcdd2"/>
<rect x="1104.07" y="978.4" width="2.7" height="2.6" fill="#ffcdd2"/>
<rect x="1108.96" y="978.4" width="2.7" height="2.1" fill="#ffcdd2"/>
<rect x="1113.85" y="978.4" width="2.7" height="2.1" fill="#ffcdd2"/>
<rect x="1118.74" y="978.4" width="2.7" height="1.6" fill="#ffcdd2"/>
<rect x="1123.63" y="978.4" width="2.7" height="2.1" fill="#ff5252"/>
<rect x="1128.52" y="978.4" width="2.7" height="1.6" fill="#ffcdd2"/>
<rect x="1133.42" y="978.4" width="2.7" height="1.4" fill="#ffcdd2"/>
<rect x="1138.31" y="978.4" width="2.7" height="1.2" fill="#ffcdd2"/>
<rect x="1143.20" y="978.4" width="2.7" height="1.6" fill="#ff5252"/>
<rect x="1148.09" y="978.4" width="2.7" height="2.0" fill="#ff5252"/>
<rect x="1152.98" y="978.4" width="2.7" height="2.5" fill="#ff5252"/>
<rect x="1157.87" y="978.4" width="2.7" height="1.8" fill="#ffcdd2"/>
<rect x="1162.77" y="978.4" width="2.7" height="1.3" fill="#ffcdd2"/>
<rect x="1167.66" y="978.4" width="2.7" height="1.0" fill="#ffcdd2"/>
<rect x="1172.55" y="978.4" width="2.7" height="0.8" fill="#ffcdd2"/>
<rect x="1177.44" y="978.4" width="2.7" height="0.6" fill="#ffcdd2"/>
<rect x="1182.33" y="978.4" width="2.7" height="0.6" fill="#ffcdd2"/>
<rect x="1187.22" y="978.4" width="2.7" height="0.6" fill="#ff5252"/>
<rect x="1192.12" y="978.4" width="2.7" height="0.6" fill="#ff5252"/>
<rect x="1197.01" y="977.8" width="2.7" height="0.6" fill="#26a69a"/>
<rect x="1201.90" y="977.6" width="2.7" height="0.8" fill="#26a69a"/>
<rect x="1206.79" y="977.5" width="2.7" height="0.9" fill="#26a69a"/>
<rect x="1211.68" y="977.4" width="2.7" height="1.0" fill="#26a69a"/>
<rect x="1216.57" y="977.3" width="2.7" height="1.1" fill="#26a69a"/>
<rect x="1221.47" y="977.2" width="2.7" height="1.2" fill="#26a69a"/>
<rect x="1226.36" y="977.2" width="2.7" height="1.2" fill="#b2dfdb"/>
<rect x="1231.25" y="977.3" width="2.7" height="1.1" fill="#b2dfdb"/>
<rect x="1236.14" y="977.4" width="2.7" height="1.0" fill="#b2dfdb"/>
<rect x="1241.03" y="977.5" width="2.7" height="0.9" fill="#b2dfdb"/>
<rect x="1245.92" y="977.7" width="2.7" height="0.7" fill="#b2dfdb"/>
<rect x="1250.82" y="978.4" width="2.7" height="0.6" fill="#ff5252"/>
<rect x="1255.71" y="978.4" width="2.7" height="1.2" fill="#ff5252"/>
<rect x="1260.60" y="978.4" width="2.7" height="1.8" fill="#ff5252"/>
<rect x="1265.49" y="978.4" width="2.7" height="2.3" fill="#ff5252"/>
<rect x="1270.38" y="978.4" width="2.7" height="2.8" fill="#ff5252"/>
<rect x="1275.27" y="978.4" width="2.7" height="3.1" fill="#ff5252"/>
<rect x="1280.17" y="978.4" width="2.7" height="2.9" fill="#ffcdd2"/>
<rect x="1285.06" y="978.4" width="2.7" height="2.9" fill="#ffcdd2"/>
<rect x="1289.95" y="978.4" width="2.7" height="3.9" fill="#ff5252"/>
<rect x="1294.84" y="978.4" width="2.7" height="4.4" fill="#ff5252"/>
<rect x="1299.73" y="978.4" width="2.7" height="3.6" fill="#ffcdd2"/>
<rect x="1304.62" y="978.4" width="2.7" height="3.5" fill="#ffcdd2"/>
<rect x="1309.52" y="978.4" width="2.7" height="3.0" fill="#ffcdd2"/>
<rect x="1314.41" y="978.4" width="2.7" height="2.5" fill="#ffcdd2"/>
<rect x="1319.30" y="978.4" width="2.7" height="2.2" fill="#ffcdd2"/>
<rect x="1324.19" y="978.4" width="2.7" height="2.7" fill="#ff5252"/>
<rect x="1329.08" y="978.4" width="2.7" height="3.2" fill="#ff5252"/>
<rect x="1333.98" y="978.4" width="2.7" height="4.2" fill="#ff5252"/>
<rect x="1338.87" y="978.4" width="2.7" height="5.1" fill="#ff5252"/>
<rect x="1343.76" y="978.4" width="2.7" height="5.6" fill="#ff5252"/>
<rect x="1348.65" y="978.4" width="2.7" height="5.6" fill="#ffcdd2"/>
<rect x="1353.54" y="978.4" width="2.7" height="5.1" fill="#ffcdd2"/>
<rect x="1358.43" y="978.4" width="2.7" height="4.6" fill="#ffcdd2"/>
<rect x="1363.33" y="978.4" width="2.7" height="3.7" fill="#ffcdd2"/>
<rect x="1368.22" y="978.4" width="2.7" height="3.1" fill="#ffcdd2"/>
<rect x="1373.11" y="978.4" width="2.7" height="2.7" fill="#ffcdd2"/>
<rect x="1378.00" y="978.4" width="2.7" height="2.2" fill="#ffcdd2"/>
<rect x="1382.89" y="978.4" width="2.7" height="1.7" fill="#ffcdd2"/>
<rect x="1387.78" y="978.4" width="2.7" height="0.6" fill="#ffcdd2"/>
<rect x="1392.68" y="977.5" width="2.7" height="0.9" fill="#26a69a"/>
<rect x="1397.57" y="977.3" width="2.7" height="1.1" fill="#26a69a"/>
<rect x="1402.46" y="977.1" width="2.7" height="1.3" fill="#26a69a"/>
<rect x="1407.35" y="977.0" width="2.7" height="1.4" fill="#26a69a"/>
<rect x="1412.24" y="977.1" width="2.7" height="1.3" fill="#b2dfdb"/>
<rect x="1417.13" y="977.3" width="2.7" height="1.1" fill="#b2dfdb"/>
<rect x="1422.03" y="977.4" width="2.7" height="1.0" fill="#b2dfdb"/>
<rect x="1426.92" y="977.5" width="2.7" height="0.9" fill="#b2dfdb"/>
<rect x="1431.81" y="977.7" width="2.7" height="0.7" fill="#b2dfdb"/>
<rect x="1436.70" y="977.8" width="2.7" height="0.6" fill="#b2dfdb"/>
<rect x="1441.59" y="978.4" width="2.7" height="0.6" fill="#ff5252"/>
<rect x="1446.48" y="978.4" width="2.7" height="1.3" fill="#ff5252"/>
<rect x="1451.38" y="978.4" width="2.7" height="2.1" fill="#ff5252"/>
<rect x="1456.27" y="978.4" width="2.7" height="3.1" fill="#ff5252"/>
<rect x="1461.16" y="978.4" width="2.7" height="4.4" fill="#ff5252"/>
<rect x="1466.05" y="978.4" width="2.7" height="5.8" fill="#ff5252"/>
<rect x="1470.94" y="978.4" width="2.7" height="7.5" fill="#ff5252"/>
<rect x="1475.83" y="978.4" width="2.7" height="9.5" fill="#ff5252"/>
<rect x="1480.73" y="978.4" width="2.7" height="11.2" fill="#ff5252"/>
<rect x="1485.62" y="978.4" width="2.7" height="12.7" fill="#ff5252"/>
<rect x="1490.51" y="978.4" width="2.7" height="14.0" fill="#ff5252"/>
<rect x="1495.40" y="978.4" width="2.7" height="15.3" fill="#ff5252"/>
<rect x="1500.29" y="978.4" width="2.7" height="15.9" fill="#ff5252"/>
<rect x="1505.18" y="978.4" width="2.7" height="13.8" fill="#ffcdd2"/>
<rect x="1510.08" y="978.4" width="2.7" height="11.4" fill="#ffcdd2"/>
<rect x="1514.97" y="978.4" width="2.7" height="8.8" fill="#ffcdd2"/>
<rect x="1519.86" y="978.4" width="2.7" height="6.0" fill="#ffcdd2"/>
<rect x="1524.75" y="978.4" width="2.7" height="3.5" fill="#ffcdd2"/>
<rect x="1529.64" y="977.5" width="2.7" height="0.9" fill="#26a69a"/>
<rect x="1534.53" y="976.1" width="2.7" height="2.3" fill="#26a69a"/>
<rect x="1539.43" y="973.6" width="2.7" height="4.8" fill="#26a69a"/>
<rect x="1544.32" y="971.2" width="2.7" height="7.2" fill="#26a69a"/>
<rect x="1549.21" y="969.3" width="2.7" height="9.1" fill="#26a69a"/>
<rect x="1554.10" y="968.0" width="2.7" height="10.4" fill="#26a69a"/>
<rect x="1558.99" y="968.1" width="2.7" height="10.3" fill="#b2dfdb"/>
<rect x="1563.88" y="969.5" width="2.7" height="8.9" fill="#b2dfdb"/>
<rect x="1568.78" y="970.5" width="2.7" height="7.9" fill="#b2dfdb"/>
<rect x="1573.67" y="971.5" width="2.7" height="6.9" fill="#b2dfdb"/>
<rect x="1578.56" y="972.5" width="2.7" height="5.9" fill="#b2dfdb"/>
<rect x="1583.45" y="973.0" width="2.7" height="5.4" fill="#b2dfdb"/>
<rect x="1588.34" y="972.1" width="2.7" height="6.3" fill="#26a69a"/>
<rect x="1593.24" y="971.5" width="2.7" height="6.9" fill="#26a69a"/>
<rect x="1598.13" y="971.1" width="2.7" height="7.3" fill="#26a69a"/>
<rect x="1603.02" y="971.4" width="2.7" height="7.0" fill="#b2dfdb"/>
<rect x="1607.91" y="971.9" width="2.7" height="6.5" fill="#b2dfdb"/>
<rect x="1612.80" y="972.4" width="2.7" height="6.0" fill="#b2dfdb"/>
<rect x="1617.69" y="972.5" width="2.7" height="5.9" fill="#b2dfdb"/>
<rect x="1622.59" y="972.1" width="2.7" height="6.3" fill="#26a69a"/>
<rect x="1627.48" y="972.4" width="2.7" height="6.0" fill="#b2dfdb"/>
<rect x="1632.37" y="972.9" width="2.7" height="5.5" fill="#b2dfdb"/>
<rect x="1637.26" y="973.0" width="2.7" height="5.4" fill="#b2dfdb"/>
<rect x="1642.15" y="974.1" width="2.7" height="4.3" fill="#b2dfdb"/>
<rect x="1647.04" y="975.2" width="2.7" height="3.2" fill="#b2dfdb"/>
<rect x="1651.94" y="976.2" width="2.7" height="2.2" fill="#b2dfdb"/>
<rect x="1656.83" y="976.8" width="2.7" height="1.6" fill="#b2dfdb"/>
<rect x="1661.72" y="977.0" width="2.7" height="1.4" fill="#b2dfdb"/>
<rect x="1666.61" y="977.2" width="2.7" height="1.2" fill="#b2dfdb"/>
<rect x="1671.50" y="977.5" width="2.7" height="0.9" fill="#b2dfdb"/>
<rect x="1676.39" y="978.4" width="2.7" height="0.6" fill="#ff5252"/>
<rect x="1681.29" y="978.4" width="2.7" height="1.4" fill="#ff5252"/>
</g>
<path d="M0.0,973.9 C2.7,974.7 9.6,975.9 15.0,978.4 C20.4,980.9 24.6,985.2 30.0,987.8 C35.4,990.4 39.6,991.6 45.0,993.0 C50.4,994.4 54.6,995.8 60.0,995.8 C65.4,995.8 69.6,993.9 75.0,993.0 C80.4,992.1 84.6,991.5 90.0,991.0 C95.4,990.5 99.6,991.1 105.0,990.0 C110.4,988.9 114.6,987.1 120.0,985.0 C125.4,982.9 129.6,980.3 135.0,978.4 C140.4,976.5 143.7,975.6 150.0,974.4 C156.3,973.2 162.8,972.2 170.0,971.7 C177.2,971.2 182.8,971.7 190.0,971.7 C197.2,971.7 202.8,971.6 210.0,971.7 C217.2,971.8 222.8,972.1 230.0,972.3 C237.2,972.5 242.8,973.1 250.0,973.0 C257.2,972.9 262.8,972.1 270.0,971.7 C277.2,971.3 282.8,971.4 290.0,971.0 C297.2,970.6 302.8,970.1 310.0,969.6 C317.2,969.1 322.8,968.7 330.0,968.5 C337.2,968.3 344.6,968.2 350.0,968.5 C355.4,968.8 355.5,969.6 360.0,970.4 C364.5,971.2 369.6,972.2 375.0,973.0 C380.4,973.8 385.5,974.3 390.0,975.0 C394.5,975.7 396.4,976.3 400.0,977.0 C403.6,977.7 406.4,978.7 410.0,979.0 C413.6,979.3 415.5,978.4 420.0,978.4 C424.5,978.4 429.6,978.8 435.0,979.0 C440.4,979.2 445.5,979.3 450.0,979.7 C454.5,980.1 457.3,981.5 460.0,981.0 C462.7,980.5 463.4,978.7 465.0,977.0 C466.6,975.3 468.0,971.9 469.0,971.7 C470.0,971.5 470.0,971.1 470.5,976.0 C471.0,980.9 470.8,990.3 472.0,999.0 C473.2,1007.7 475.0,1016.8 477.0,1024.5 C479.0,1032.2 480.7,1036.9 483.0,1042.0 C485.3,1047.1 487.5,1049.1 490.0,1052.6 C492.5,1056.1 494.7,1058.6 497.0,1061.6 C499.3,1064.6 501.0,1066.8 503.0,1069.0 C505.0,1071.2 506.2,1073.3 508.0,1074.0 C509.8,1074.7 510.8,1073.9 513.0,1073.0 C515.2,1072.1 517.5,1070.8 520.0,1069.0 C522.5,1067.2 524.3,1066.4 527.0,1063.0 C529.7,1059.6 532.1,1054.4 535.0,1050.0 C537.9,1045.6 539.8,1041.9 543.0,1038.5 C546.2,1035.1 549.4,1033.3 553.0,1031.0 C556.6,1028.7 559.9,1027.9 563.0,1025.7 C566.1,1023.5 567.5,1021.0 570.0,1019.0 C572.5,1017.0 574.3,1015.7 577.0,1014.7 C579.7,1013.7 582.7,1013.3 585.0,1013.5 C587.3,1013.7 587.7,1015.4 590.0,1016.0 C592.3,1016.6 595.3,1016.9 598.0,1016.8 C600.7,1016.7 601.9,1016.4 605.0,1015.5 C608.1,1014.6 611.8,1013.1 615.0,1011.7 C618.2,1010.3 620.3,1009.7 623.0,1007.8 C625.7,1005.9 627.5,1002.9 630.0,1001.4 C632.5,999.9 633.4,999.9 637.0,999.4 C640.6,998.9 645.9,998.1 650.0,998.4 C654.1,998.7 656.4,1000.8 660.0,1001.0 C663.6,1001.2 666.4,1000.0 670.0,999.4 C673.6,998.8 676.4,998.2 680.0,997.6 C683.6,997.0 686.4,997.0 690.0,996.3 C693.6,995.6 696.4,994.5 700.0,993.7 C703.6,992.9 706.4,991.9 710.0,991.7 C713.6,991.5 715.5,992.0 720.0,992.5 C724.5,993.0 730.5,993.8 735.0,994.3 C739.5,994.8 741.8,994.5 745.0,995.0 C748.2,995.5 750.3,996.8 753.0,996.8 C755.7,996.8 756.9,994.6 760.0,995.0 C763.1,995.4 766.4,997.6 770.0,999.0 C773.6,1000.4 776.8,1001.8 780.0,1002.7 C783.2,1003.6 784.4,1004.0 788.0,1004.0 C791.6,1004.0 795.1,1003.2 800.0,1002.7 C804.9,1002.2 810.5,1002.3 815.0,1001.4 C819.5,1000.5 820.5,999.2 825.0,997.6 C829.5,996.0 835.5,994.3 840.0,992.5 C844.5,990.7 846.9,989.5 850.0,987.4 C853.1,985.3 854.3,983.5 857.0,981.0 C859.7,978.5 861.8,975.2 865.0,973.3 C868.2,971.4 871.4,971.4 875.0,970.2 C878.6,969.0 882.3,967.7 885.0,966.9 C887.7,966.1 887.3,966.1 890.0,965.6 C892.7,965.1 895.5,964.8 900.0,964.3 C904.5,963.8 910.5,963.3 915.0,963.0 C919.5,962.7 921.4,962.5 925.0,962.5 C928.6,962.5 931.4,962.2 935.0,963.0 C938.6,963.8 940.5,966.0 945.0,967.0 C949.5,968.0 954.6,968.3 960.0,968.7 C965.4,969.1 970.5,969.6 975.0,969.4 C979.5,969.2 981.4,968.3 985.0,967.6 C988.6,966.9 990.5,966.1 995.0,965.6 C999.5,965.1 1005.5,964.8 1010.0,964.8 C1014.5,964.8 1015.5,965.5 1020.0,965.6 C1024.5,965.7 1030.5,965.8 1035.0,965.6 C1039.5,965.4 1041.4,964.9 1045.0,964.3 C1048.6,963.7 1051.9,962.8 1055.0,962.5 C1058.1,962.2 1059.3,962.2 1062.0,962.5 C1064.7,962.8 1066.8,963.8 1070.0,964.3 C1073.2,964.8 1076.9,964.3 1080.0,965.0 C1083.1,965.7 1084.3,966.6 1087.0,968.0 C1089.7,969.4 1091.8,972.1 1095.0,972.5 C1098.2,972.9 1100.5,970.5 1105.0,970.0 C1109.5,969.5 1114.6,970.0 1120.0,970.0 C1125.4,970.0 1130.5,969.8 1135.0,970.0 C1139.5,970.2 1141.4,970.5 1145.0,971.0 C1148.6,971.5 1151.4,972.5 1155.0,972.5 C1158.6,972.5 1161.4,971.1 1165.0,971.0 C1168.6,970.9 1170.5,972.0 1175.0,972.0 C1179.5,972.0 1184.6,971.4 1190.0,971.0 C1195.4,970.6 1200.5,970.5 1205.0,970.0 C1209.5,969.5 1211.4,968.5 1215.0,968.0 C1218.6,967.5 1221.4,967.2 1225.0,967.0 C1228.6,966.8 1230.5,966.9 1235.0,967.0 C1239.5,967.1 1245.5,967.2 1250.0,967.6 C1254.5,968.0 1256.4,968.6 1260.0,969.4 C1263.6,970.2 1266.4,971.3 1270.0,972.0 C1273.6,972.7 1276.4,972.8 1280.0,973.3 C1283.6,973.8 1287.3,973.8 1290.0,974.5 C1292.7,975.2 1291.4,976.4 1295.0,977.0 C1298.6,977.6 1305.5,977.9 1310.0,978.0 C1314.5,978.1 1316.4,977.3 1320.0,977.5 C1323.6,977.7 1326.4,978.4 1330.0,979.3 C1333.6,980.2 1336.4,981.5 1340.0,982.5 C1343.6,983.5 1346.4,984.3 1350.0,985.0 C1353.6,985.7 1355.5,986.5 1360.0,986.4 C1364.5,986.3 1369.6,985.4 1375.0,984.6 C1380.4,983.8 1384.6,982.9 1390.0,982.0 C1395.4,981.1 1399.6,980.4 1405.0,979.8 C1410.4,979.2 1414.6,978.8 1420.0,978.5 C1425.4,978.2 1430.1,977.9 1435.0,978.0 C1439.9,978.1 1443.4,978.8 1447.0,979.3 C1450.6,979.8 1451.8,980.0 1455.0,981.0 C1458.2,982.0 1461.4,983.1 1465.0,985.0 C1468.6,986.9 1471.4,989.1 1475.0,991.7 C1478.6,994.3 1481.8,996.8 1485.0,999.7 C1488.2,1002.6 1490.3,1004.9 1493.0,1007.7 C1495.7,1010.5 1497.8,1013.4 1500.0,1015.0 C1502.2,1016.6 1502.3,1016.3 1505.0,1016.4 C1507.7,1016.5 1511.9,1016.2 1515.0,1015.6 C1518.1,1015.0 1519.3,1014.4 1522.0,1013.0 C1524.7,1011.6 1526.8,1009.9 1530.0,1007.7 C1533.2,1005.5 1536.8,1003.4 1540.0,1001.0 C1543.2,998.6 1545.3,996.3 1548.0,994.4 C1550.7,992.5 1551.9,991.5 1555.0,990.4 C1558.1,989.3 1561.4,988.9 1565.0,988.3 C1568.6,987.7 1571.4,987.8 1575.0,987.2 C1578.6,986.6 1581.4,986.2 1585.0,985.0 C1588.6,983.8 1591.4,981.7 1595.0,980.3 C1598.6,978.9 1601.4,978.0 1605.0,977.0 C1608.6,976.0 1611.4,975.5 1615.0,974.5 C1618.6,973.5 1621.9,972.4 1625.0,971.3 C1628.1,970.2 1629.3,969.4 1632.0,968.6 C1634.7,967.8 1636.8,967.1 1640.0,967.0 C1643.2,966.9 1646.4,967.7 1650.0,967.9 C1653.6,968.1 1656.4,968.0 1660.0,967.9 C1663.6,967.8 1666.4,967.2 1670.0,967.3 C1673.6,967.4 1676.8,967.9 1680.0,968.6 C1683.2,969.3 1686.6,970.8 1688.0,971.3" fill="none" stroke="#2962ff" stroke-width="1.8" stroke-linejoin="round"/>
<path d="M0.0,975.7 C2.7,975.9 9.6,975.8 15.0,977.0 C20.4,978.2 24.6,980.5 30.0,982.4 C35.4,984.3 39.6,986.1 45.0,987.8 C50.4,989.5 54.6,990.9 60.0,991.8 C65.4,992.7 69.6,992.7 75.0,993.0 C80.4,993.3 84.6,993.7 90.0,993.6 C95.4,993.5 99.6,993.4 105.0,992.6 C110.4,991.8 114.6,990.5 120.0,989.0 C125.4,987.5 129.6,986.2 135.0,984.5 C140.4,982.8 143.7,981.3 150.0,979.7 C156.3,978.1 162.8,976.8 170.0,975.7 C177.2,974.6 182.8,974.1 190.0,973.6 C197.2,973.1 202.8,973.2 210.0,973.0 C217.2,972.8 222.8,972.6 230.0,972.5 C237.2,972.4 242.8,972.5 250.0,972.5 C257.2,972.5 262.8,972.4 270.0,972.3 C277.2,972.2 282.8,972.0 290.0,971.7 C297.2,971.4 302.8,970.9 310.0,970.4 C317.2,969.9 322.8,969.3 330.0,969.0 C337.2,968.7 343.7,968.5 350.0,968.5 C356.3,968.5 359.6,968.6 365.0,969.0 C370.4,969.4 374.6,970.2 380.0,970.9 C385.4,971.6 389.6,972.3 395.0,973.0 C400.4,973.7 404.6,974.4 410.0,975.0 C415.4,975.6 419.6,976.0 425.0,976.5 C430.4,977.0 434.6,977.3 440.0,977.6 C445.4,977.9 449.8,978.3 455.0,978.4 C460.2,978.5 465.8,977.9 469.0,978.4 C472.2,978.9 471.0,977.3 473.0,981.0 C475.0,984.7 477.5,992.6 480.0,999.0 C482.5,1005.4 484.3,1010.9 487.0,1016.8 C489.7,1022.7 492.1,1026.9 495.0,1032.0 C497.9,1037.1 499.8,1041.0 503.0,1045.0 C506.2,1049.0 509.4,1051.7 513.0,1054.0 C516.6,1056.3 519.9,1057.0 523.0,1057.7 C526.1,1058.4 526.9,1058.5 530.0,1058.0 C533.1,1057.5 536.4,1056.7 540.0,1055.0 C543.6,1053.3 546.4,1051.2 550.0,1048.7 C553.6,1046.2 556.4,1043.5 560.0,1041.0 C563.6,1038.5 566.4,1037.2 570.0,1034.7 C573.6,1032.2 576.4,1029.2 580.0,1027.0 C583.6,1024.8 586.4,1023.6 590.0,1022.4 C593.6,1021.2 596.4,1021.4 600.0,1020.6 C603.6,1019.8 606.4,1018.9 610.0,1018.0 C613.6,1017.1 616.4,1016.9 620.0,1015.5 C623.6,1014.1 626.4,1012.1 630.0,1010.4 C633.6,1008.7 636.4,1007.4 640.0,1006.0 C643.6,1004.6 645.5,1003.7 650.0,1002.7 C654.5,1001.7 659.6,1001.3 665.0,1000.6 C670.4,999.9 673.7,999.9 680.0,999.0 C686.3,998.1 693.7,996.5 700.0,995.5 C706.3,994.5 709.6,994.0 715.0,993.7 C720.4,993.4 724.6,993.6 730.0,993.7 C735.4,993.8 739.6,994.2 745.0,994.3 C750.4,994.4 754.6,993.8 760.0,994.3 C765.4,994.8 769.6,995.8 775.0,996.8 C780.4,997.8 784.6,999.2 790.0,1000.0 C795.4,1000.8 799.6,1000.8 805.0,1001.0 C810.4,1001.2 814.6,1001.5 820.0,1001.0 C825.4,1000.5 829.6,999.6 835.0,998.3 C840.4,997.0 845.5,995.4 850.0,993.7 C854.5,992.0 856.4,990.7 860.0,988.6 C863.6,986.5 866.4,984.3 870.0,982.2 C873.6,980.1 876.4,978.4 880.0,977.0 C883.6,975.6 886.4,975.6 890.0,974.5 C893.6,973.4 896.4,971.9 900.0,970.7 C903.6,969.5 906.4,968.8 910.0,968.0 C913.6,967.2 915.5,966.6 920.0,966.0 C924.5,965.4 929.6,964.9 935.0,964.8 C940.4,964.7 944.6,965.2 950.0,965.6 C955.4,966.0 959.6,966.6 965.0,967.0 C970.4,967.4 974.6,967.6 980.0,967.6 C985.4,967.6 989.6,967.2 995.0,967.0 C1000.4,966.8 1003.7,966.6 1010.0,966.4 C1016.3,966.2 1023.7,966.1 1030.0,966.0 C1036.3,965.9 1039.6,965.9 1045.0,965.6 C1050.4,965.3 1054.6,964.5 1060.0,964.3 C1065.4,964.1 1070.5,964.2 1075.0,964.3 C1079.5,964.4 1081.4,964.4 1085.0,965.0 C1088.6,965.6 1091.4,966.7 1095.0,967.4 C1098.6,968.1 1100.5,968.3 1105.0,968.7 C1109.5,969.1 1114.6,969.5 1120.0,969.7 C1125.4,969.9 1129.6,969.8 1135.0,970.0 C1140.4,970.2 1144.6,970.5 1150.0,970.7 C1155.4,970.9 1159.6,970.9 1165.0,971.0 C1170.4,971.1 1173.7,971.1 1180.0,971.0 C1186.3,970.9 1193.7,970.9 1200.0,970.7 C1206.3,970.5 1209.6,970.1 1215.0,969.7 C1220.4,969.3 1224.6,969.0 1230.0,968.7 C1235.4,968.4 1239.6,968.0 1245.0,968.0 C1250.4,968.0 1254.6,968.3 1260.0,968.7 C1265.4,969.1 1269.6,969.4 1275.0,970.0 C1280.4,970.6 1284.6,971.2 1290.0,972.0 C1295.4,972.8 1299.6,973.8 1305.0,974.5 C1310.4,975.2 1314.6,975.1 1320.0,975.8 C1325.4,976.5 1329.6,977.4 1335.0,978.5 C1340.4,979.6 1344.6,981.0 1350.0,982.0 C1355.4,983.0 1359.6,983.5 1365.0,983.8 C1370.4,984.1 1374.6,984.1 1380.0,983.8 C1385.4,983.5 1389.6,982.9 1395.0,982.4 C1400.4,981.9 1404.6,981.5 1410.0,981.0 C1415.4,980.5 1419.6,980.2 1425.0,979.8 C1430.4,979.4 1434.6,979.0 1440.0,979.0 C1445.4,979.0 1450.5,979.3 1455.0,979.8 C1459.5,980.3 1461.4,981.1 1465.0,982.0 C1468.6,982.9 1471.4,983.5 1475.0,985.0 C1478.6,986.5 1481.4,988.2 1485.0,990.4 C1488.6,992.6 1491.4,994.6 1495.0,997.0 C1498.6,999.4 1501.4,1001.8 1505.0,1003.7 C1508.6,1005.6 1511.4,1006.7 1515.0,1007.7 C1518.6,1008.7 1521.4,1009.3 1525.0,1009.5 C1528.6,1009.7 1531.4,1009.6 1535.0,1009.0 C1538.6,1008.4 1541.4,1007.6 1545.0,1006.3 C1548.6,1004.9 1551.4,1003.2 1555.0,1001.5 C1558.6,999.8 1561.4,998.5 1565.0,997.0 C1568.6,995.5 1571.4,994.2 1575.0,993.0 C1578.6,991.8 1581.4,991.6 1585.0,990.4 C1588.6,989.2 1591.4,987.7 1595.0,986.4 C1598.6,985.1 1601.4,984.2 1605.0,983.0 C1608.6,981.8 1611.4,980.9 1615.0,979.8 C1618.6,978.7 1621.4,978.0 1625.0,977.0 C1628.6,976.0 1631.4,974.9 1635.0,974.0 C1638.6,973.1 1641.4,972.4 1645.0,971.8 C1648.6,971.2 1651.4,971.0 1655.0,970.5 C1658.6,970.0 1661.4,969.5 1665.0,969.2 C1668.6,968.9 1670.9,968.7 1675.0,968.6 C1679.1,968.5 1685.7,968.6 1688.0,968.6" fill="none" stroke="#f4720a" stroke-width="1.8" stroke-linejoin="round"/>
<rect x="0" y="946.8" width="1797" height="2.2" fill="#e8e8e8"/>
<rect x="1691.9" y="0" width="106.1" height="946.6" fill="#000"/>
<rect x="1691.9" y="949" width="106.1" height="139" fill="#000"/>
<rect x="1689.85" y="0" width="2.1" height="1118" fill="#56585d"/>
<rect x="0" y="1089" width="1797" height="29" fill="#000"/>
<rect x="0" y="1086.6" width="1797" height="2.2" fill="#56585d"/></svg>
<div class="t" style="left:10px;top:6.5px;width:394px;height:47.5px;background:rgba(0,0,0,0.55)"></div>
<div class="t" style="left:10px;top:54px;width:296px;height:39px;background:rgba(0,0,0,0.55)"></div>
<div class="t" style="left:13px;top:146px;width:229px;height:51px;background:rgba(0,0,0,0.55)"></div>
<svg width="60" height="60" viewBox="0 0 60 60" style="left:0;top:0">
<defs><clipPath id="usc"><circle cx="25.3" cy="35.0" r="10.8"/></clipPath></defs>
<circle cx="36.4" cy="24.5" r="10.5" fill="#eceef4"/>
<circle cx="36.7" cy="24.0" r="4.0" fill="#f0474f"/>
<circle cx="25.3" cy="35.0" r="13.1" fill="#000"/>
<g clip-path="url(#usc)">
<rect x="14" y="24" width="23" height="23" fill="#f4f5f9"/>
<rect x="14" y="24" width="23" height="4.4" fill="#ef5346"/>
<rect x="14" y="33.0" width="23" height="3.4" fill="#ef5346"/>
<rect x="14" y="41.2" width="23" height="6" fill="#ef5346"/>
<rect x="14" y="24" width="13.3" height="12.5" fill="#2a80e0"/>
<g fill="#eef3fd"><rect x="16.6" y="26.5" width="1.7" height="1.7"/><rect x="20.2" y="26.5" width="1.7" height="1.7"/><rect x="23.9" y="26.5" width="1.7" height="1.7"/>
<rect x="16.6" y="30.0" width="1.7" height="1.7"/><rect x="20.2" y="30.0" width="1.7" height="1.7"/><rect x="23.9" y="30.0" width="1.7" height="1.7"/>
<rect x="16.6" y="33.6" width="1.7" height="1.7"/><rect x="20.2" y="33.6" width="1.7" height="1.7"/><rect x="23.9" y="33.6" width="1.7" height="1.7"/></g>
</g></svg>
<div class="t" id="title" style="left:54px;top:14.1px;font-size:27.6px;line-height:32px;color:#f2f3f5;letter-spacing:0px">U.S. Dollar / Japanese Yen ·</div>
<div class="t" id="vals" style="left:14.5px;top:56.7px;font-size:22.2px;line-height:26px;color:#22a583;letter-spacing:1.68px">149.095 +0.110 (+0.07%)</div>
<div class="t" id="sell" style="left:13.1px;top:93.2px;width:119px;height:52.6px;border-radius:6px;background:#f23645;color:#fbeaec;font-size:22.2px;line-height:52.6px;text-align:center;letter-spacing:1.2px">149.09<span style="font-size:18px;position:relative;top:-3.4px;letter-spacing:0;margin-left:0.4px">2</span></div>
<div class="t" id="spread" style="left:146.2px;top:107.2px;font-size:18px;line-height:26px;color:#d5d7de;letter-spacing:1.6px">0.4</div>
<div class="t" id="buy" style="left:189.4px;top:93.2px;width:119.4px;height:52.6px;border-radius:6px;background:#2962ff;color:#eaf0ff;font-size:22.2px;line-height:52.6px;text-align:center;letter-spacing:1.2px">149.09<span style="font-size:18px;position:relative;top:-3.4px;letter-spacing:0;margin-left:0.4px">6</span></div>
<div class="t" id="bbl" style="left:15px;top:163px;font-size:21.6px;line-height:26px;color:#f0f1f4;letter-spacing:1.15px">BB 20 SMA close 2 0</div>
<div class="t" style="left:15.4px;top:202.5px;width:55.6px;height:44.7px;border:1.5px solid #3d404a;border-radius:5px;background:rgba(0,0,0,0.82);box-sizing:border-box"></div>
<svg width="30" height="20" viewBox="0 0 30 20" style="left:28px;top:214px"><polyline points="5.6,15.6 15,6.2 24.4,15.6" fill="none" stroke="#dcdee4" stroke-width="2.4" stroke-linecap="round" stroke-linejoin="miter"/></svg>
<div class="t" id="macdl" style="left:15px;top:965px;font-size:21.6px;line-height:26px;color:#f0f1f4;letter-spacing:1.05px">MACD 12 26 close 9 EMA EMA</div>
<div class="t" style="left:1697px;top:6.9px;width:94.8px;height:46.1px;border:2px solid #3e424e;border-radius:7px;background:#121520;box-sizing:border-box"></div>
<div class="t" id="jpy" style="left:1704.5px;top:17px;font-size:19.4px;line-height:24px;color:#d6d8df;letter-spacing:-0.55px">JPY</div>
<svg width="16" height="12" viewBox="0 0 16 12" style="left:1769.5px;top:25px"><polyline points="5.4,4.2 9.4,7.9 13.4,4.2" fill="none" stroke="#e0e2ea" stroke-width="2.4" stroke-linecap="round" stroke-linejoin="round"/></svg>
<div class="pl" style="top:89.4px;height:28px;line-height:28px;color:#fff;">150.500</div>
<div class="pl" style="top:208.4px;height:28px;line-height:28px;color:#fff;">150.000</div>
<div class="pl" style="top:327.4px;height:28px;line-height:28px;color:#fff;">149.500</div>
<div class="pl" style="top:565.4px;height:28px;line-height:28px;color:#fff;">148.500</div>
<div class="pl" style="top:684.4px;height:28px;line-height:28px;color:#fff;">148.000</div>
<div class="pl" style="top:803.4px;height:28px;line-height:28px;color:#fff;">147.500</div>
<div class="pl" style="top:921.0px;height:28px;line-height:28px;color:#fff;">147.000</div>
<div class="pl box" style="top:169.8px;height:28px;line-height:28px;width:102px;background:#17326c;color:#f0f2f6;">150.160</div>
<div class="t" style="left:1629.5px;top:169.8px;width:59.1px;height:28px;line-height:28px;background:#17326c;border-radius:4px 0 0 4px;color:#f0f2f6;font-size:19.6px;letter-spacing:0.6px;padding-left:8px;box-sizing:border-box">High</div>
<div class="pl box" style="top:856.2px;height:28px;line-height:28px;width:102px;background:#17326c;color:#f0f2f6;">147.273</div>
<div class="t" style="left:1636.5px;top:856.3px;width:52.1px;height:28px;line-height:28px;background:#17326c;border-radius:4px 0 0 4px;color:#f0f2f6;font-size:19.6px;letter-spacing:0.3px;padding-left:7.5px;box-sizing:border-box">Low</div>
<div class="pl box" style="top:367.6px;height:27.6px;line-height:27.6px;width:102px;background:#2962ff;color:#fff;">149.166</div>
<div class="pl box" style="top:396.2px;height:27.2px;line-height:27.2px;width:102px;background:#f26d0c;color:#fff;">149.109</div>
<div class="pl box" style="top:424.6px;height:48.8px;width:101px;background:#0f9981;color:#fff;line-height:24px"><div style="margin-top:0.5px">149.095</div><div style="color:#cdeee6;margin-top:-1.5px">03:17</div></div>
<div class="pl box" style="top:474.6px;height:26.4px;line-height:26.4px;width:102px;background:#2962ff;color:#fff;">149.052</div>
<div class="t" style="left:1690px;top:949px;width:110px;height:17.6px;overflow:hidden"><div class="pl box" style="left:0;top:-10.4px;height:28px;line-height:26.6px;width:77px;padding-left:12.5px;background:#2962ff;color:#fff">0.021</div></div>
<div class="pl box" style="top:966.4px;height:28.2px;line-height:28.2px;width:90px;background:#ef5350;color:#fff;padding-left:14px;line-height:29.8px;">−0.004</div>
<div class="pl" style="top:1037.6px;height:28px;line-height:28px;color:#fff;padding-left:14px;">−0.200</div>
<div class="tl" style="left:112.3px">09:00</div>
<div class="tl" style="left:288.3px">12:00</div>
<div class="tl" style="left:464.3px">15:00</div>
<div class="tl" style="left:640.3px">18:00</div>
<div class="tl" style="left:816.3px">21:00</div>
<div class="tl" style="left:1168.3px">03:00</div>
<div class="tl" style="left:1344.3px">06:00</div>
<div class="tl" style="left:1520.3px">09:00</div>
<div class="tl" style="left:992.3px;font-weight:bold;letter-spacing:0">4</div>
<svg width="34" height="34" viewBox="0 0 34 34" style="left:1728.5px;top:1095.2px"><polygon points="4.1,17 10.55,5.83 23.45,5.83 29.9,17 23.45,28.17 10.55,28.17" fill="none" stroke="#b6b6b8" stroke-width="2" stroke-linejoin="round"/><circle cx="17" cy="16.8" r="3.6" fill="none" stroke="#b6b6b8" stroke-width="2"/></svg>
<div class="t" style="left:0;top:1016.3px;width:1797px;height:102px;background:rgba(161,161,161,0.62)"></div>
<svg width="1797" height="1118" viewBox="0 0 1797 1118" style="left:0;top:0">
<polygon points="32.03,1047.01 37.29,1047.01 37.29,1084.07 32.03,1084.07" fill="#ea3935" stroke="#ea3935" stroke-width="0.35" stroke-linejoin="miter"/>
<polygon points="17.01,1050.27 52.56,1050.27 52.56,1054.77 17.01,1054.77" fill="#ea3935" stroke="#ea3935" stroke-width="0.35" stroke-linejoin="miter"/>
<polygon points="20.77,1056.78 48.81,1056.78 48.81,1070.80 20.77,1070.80" fill="#ea3935" stroke="#ea3935" stroke-width="0.35" stroke-linejoin="miter"/>
<polygon points="25.77,1060.03 32.03,1060.03 32.03,1061.88 25.77,1061.88" fill="#646464" stroke="#646464" stroke-width="0.35" stroke-linejoin="miter"/>
<polygon points="25.77,1065.54 32.03,1065.54 32.03,1067.54 25.77,1067.54" fill="#646464" stroke="#646464" stroke-width="0.35" stroke-linejoin="miter"/>
<polygon points="37.29,1060.03 43.80,1060.03 43.80,1061.88 37.29,1061.88" fill="#646464" stroke="#646464" stroke-width="0.35" stroke-linejoin="miter"/>
<polygon points="37.29,1065.54 43.80,1065.54 43.80,1067.54 37.29,1067.54" fill="#646464" stroke="#646464" stroke-width="0.35" stroke-linejoin="miter"/>
<polygon points="32.03,1069.54 32.03,1075.30 19.51,1083.47 16.91,1079.56 29.53,1070.80" fill="#ea3935" stroke="#ea3935" stroke-width="0.35" stroke-linejoin="miter"/>
<polygon points="37.29,1069.54 40.05,1070.80 53.16,1078.31 50.31,1083.16 37.29,1075.30" fill="#ea3935" stroke="#ea3935" stroke-width="0.35" stroke-linejoin="miter"/>
<polygon points="55.32,1048.01 90.87,1048.01 90.87,1052.27 55.32,1052.27" fill="#ea3935" stroke="#ea3935" stroke-width="0.35" stroke-linejoin="miter"/>
<polygon points="56.82,1056.78 89.62,1056.78 89.62,1084.32 84.61,1084.32 84.61,1060.78 61.83,1060.78 61.83,1084.32 56.82,1084.32" fill="#ea3935" stroke="#ea3935" stroke-width="0.35" stroke-linejoin="miter"/>
<polygon points="61.83,1077.81 84.61,1077.81 84.61,1082.56 61.83,1082.56" fill="#ea3935" stroke="#ea3935" stroke-width="0.35" stroke-linejoin="miter"/>
<path d="M66.08,1052.27 L70.84,1052.27 L70.84,1061.53 Q70.59,1070.05 65.33,1075.95 L62.33,1072.30 Q66.08,1068.04 66.08,1061.53 Z" fill="#ea3935"/>
<path d="M74.10,1052.27 L78.85,1052.27 L78.85,1068.54 Q78.85,1070.05 80.61,1070.05 L80.71,1066.04 L82.36,1067.29 L84.61,1066.04 L84.61,1072.05 Q82.11,1074.65 77.60,1074.65 Q74.10,1074.65 74.10,1070.05 Z" fill="#ea3935"/>
<polygon points="133.22,1026.83 134.31,1027.45 134.31,1055.19 123.09,1064.85 109.07,1051.29" fill="#3f3f40" stroke="#3f3f40" stroke-width="0.35" stroke-linejoin="miter"/>
<polygon points="134.31,1052.07 134.31,1056.74 124.34,1065.78 122.31,1063.76" fill="#232324" stroke="#232324" stroke-width="0.35" stroke-linejoin="miter"/>
<polygon points="109.07,1051.29 97.38,1064.53 122.31,1091.02 134.00,1078.56 134.00,1076.22 123.09,1064.85" fill="#636366" stroke="#636366" stroke-width="0.35" stroke-linejoin="miter"/>
<polygon points="97.38,1064.53 97.85,1066.40 122.47,1092.58 134.00,1080.43 134.00,1078.56 122.31,1091.02" fill="#4e4e51" stroke="#4e4e51" stroke-width="0.35" stroke-linejoin="miter"/>
<polygon points="134.00,1051.76 145.68,1039.29 171.39,1064.53 158.93,1077.78 144.13,1063.76" fill="#ef625c" stroke="#ef625c" stroke-width="0.35" stroke-linejoin="miter"/>
<polygon points="171.39,1064.53 171.39,1067.96 158.93,1081.36 158.93,1077.78" fill="#d84843" stroke="#d84843" stroke-width="0.35" stroke-linejoin="miter"/>
<polygon points="134.00,1074.66 144.13,1063.76 158.93,1077.78 158.93,1080.12 134.78,1101.93 134.00,1101.15" fill="#ee3e38" stroke="#ee3e38" stroke-width="0.35" stroke-linejoin="miter"/>
<polygon points="158.93,1077.78 158.93,1081.36 135.24,1104.73 134.31,1101.15" fill="#c22f2b" stroke="#c22f2b" stroke-width="0.35" stroke-linejoin="miter"/>
<polygon points="179.96,1050.20 212.68,1050.20 212.68,1056.74 188.53,1056.74 188.53,1062.20 210.35,1062.20 210.35,1068.90 188.53,1068.90 188.53,1081.67 179.96,1081.67" fill="#404040" stroke="#404040" stroke-width="0.35" stroke-linejoin="miter"/>
<polygon points="215.80,1050.20 227.49,1050.20 258.65,1081.67 246.96,1081.67" fill="#404040" stroke="#404040" stroke-width="0.35" stroke-linejoin="miter"/>
<polygon points="244.62,1050.20 257.09,1050.20 225.93,1081.67 214.24,1081.67" fill="#404040" stroke="#404040" stroke-width="0.35" stroke-linejoin="miter"/>
</svg>
</div></body></html>
